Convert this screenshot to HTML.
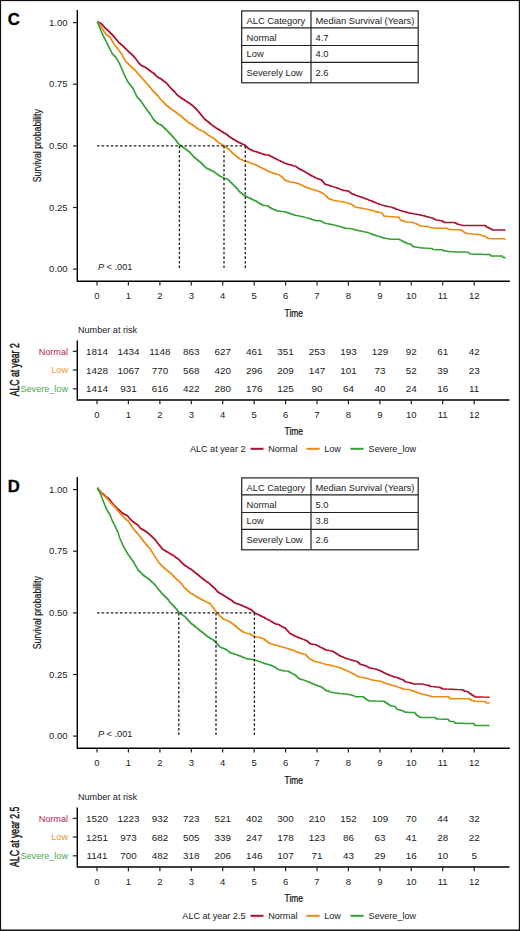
<!DOCTYPE html>
<html><head><meta charset="utf-8"><style>
html,body{margin:0;padding:0;background:#fff;}
svg{display:block;font-family:"Liberation Sans", sans-serif;}
</style></head><body>
<svg width="520" height="931" viewBox="0 0 520 931">
<rect x="0" y="0" width="520" height="931" fill="#fff"/>
<text transform="translate(7.7,24.9) scale(0.98,1)" font-size="17" font-weight="bold" fill="#000" stroke="#000" stroke-width="0.35">C</text>
<polyline points="97.1,21.7 98.7,21.7 98.7,22.7 100.3,22.7 100.3,23.8 101.9,23.8 101.9,24.8 102.8,24.8 102.8,25.8 103.7,25.8 103.7,26.8 104.5,26.8 104.5,27.8 105.4,27.8 105.4,28.8 106.5,28.8 106.5,29.8 107.7,29.8 107.7,30.7 108.8,30.7 108.8,31.7 109.7,31.7 109.7,32.6 110.5,32.6 110.5,33.5 111.4,33.5 111.4,34.3 112.3,34.3 112.3,35.2 113.2,35.2 113.2,36.2 114.0,36.2 114.0,37.2 114.9,37.2 114.9,38.2 115.8,38.2 115.8,39.2 116.5,39.2 116.5,40.0 117.2,40.0 117.2,40.8 117.8,40.8 117.8,41.7 118.5,41.7 118.5,42.5 119.2,42.5 119.2,43.3 120.3,43.3 120.3,44.3 121.5,44.3 121.5,45.3 122.7,45.3 122.7,46.3 123.8,46.3 123.8,47.3 124.7,47.3 124.7,48.2 125.7,48.2 125.7,49.1 126.6,49.1 126.6,50.1 127.6,50.1 127.6,51.0 128.5,51.0 128.5,51.9 129.4,51.9 129.4,52.7 130.3,52.7 130.3,53.5 131.3,53.5 131.3,54.4 132.2,54.4 132.2,55.2 133.1,55.2 133.1,56.0 133.8,56.0 133.8,56.9 134.6,56.9 134.6,57.7 135.3,57.7 135.3,58.5 136.0,58.5 136.0,59.4 136.6,59.4 136.6,60.2 137.1,60.2 137.1,61.0 137.7,61.0 137.7,61.9 138.2,61.9 138.2,62.7 138.8,62.7 138.8,63.5 139.8,63.5 139.8,64.5 140.8,64.5 140.8,65.4 142.3,65.4 142.3,66.2 143.9,66.2 143.9,66.9 145.4,66.9 145.4,67.7 146.6,67.7 146.6,68.6 147.7,68.6 147.7,69.5 148.8,69.5 148.8,70.3 150.0,70.3 150.0,71.2 151.2,71.2 151.2,72.0 152.3,72.0 152.3,72.7 153.5,72.7 153.5,73.5 154.3,73.5 154.3,74.3 155.2,74.3 155.2,75.2 156.1,75.2 156.1,76.1 156.9,76.1 156.9,76.9 158.4,76.9 158.4,77.9 160.0,77.9 160.0,78.8 161.5,78.8 161.5,79.8 162.7,79.8 162.7,80.7 163.8,80.7 163.8,81.5 165.0,81.5 165.0,82.4 166.2,82.4 166.2,83.3 167.0,83.3 167.0,84.2 167.7,84.2 167.7,85.0 168.5,85.0 168.5,85.9 169.3,85.9 169.3,86.8 170.0,86.8 170.0,87.6 170.8,87.6 170.8,88.5 171.7,88.5 171.7,89.4 172.6,89.4 172.6,90.3 173.6,90.3 173.6,91.3 174.5,91.3 174.5,92.2 175.4,92.2 175.4,93.1 176.1,93.1 176.1,93.9 176.8,93.9 176.8,94.8 177.5,94.8 177.5,95.6 178.7,95.6 178.7,96.6 180.0,96.6 180.0,97.5 181.2,97.5 181.2,98.5 182.6,98.5 182.6,99.3 184.1,99.3 184.1,100.2 185.5,100.2 185.5,101.1 186.9,101.1 186.9,101.9 188.1,101.9 188.1,102.7 189.2,102.7 189.2,103.5 190.4,103.5 190.4,104.4 191.5,104.4 191.5,105.2 192.7,105.2 192.7,106.0 193.6,106.0 193.6,106.9 194.5,106.9 194.5,107.8 195.5,107.8 195.5,108.8 196.4,108.8 196.4,109.7 197.3,109.7 197.3,110.6 198.1,110.6 198.1,111.5 198.8,111.5 198.8,112.5 199.6,112.5 199.6,113.4 200.4,113.4 200.4,114.3 201.1,114.3 201.1,115.3 201.9,115.3 201.9,116.2 202.6,116.2 202.6,117.0 203.2,117.0 203.2,117.8 203.9,117.8 203.9,118.6 204.6,118.6 204.6,119.4 205.8,119.4 205.8,120.4 206.9,120.4 206.9,121.3 208.1,121.3 208.1,122.3 209.2,122.3 209.2,123.2 210.4,123.2 210.4,124.2 211.6,124.2 211.6,125.1 212.7,125.1 212.7,125.9 213.9,125.9 213.9,126.8 215.0,126.8 215.0,127.6 216.2,127.6 216.2,128.5 217.6,128.5 217.6,129.3 219.1,129.3 219.1,130.2 220.5,130.2 220.5,131.1 221.9,131.1 221.9,131.9 223.4,131.9 223.4,132.9 225.0,132.9 225.0,133.8 226.5,133.8 226.5,134.8 227.7,134.8 227.7,135.7 228.8,135.7 228.8,136.6 230.0,136.6 230.0,137.4 231.2,137.4 231.2,138.3 232.6,138.3 232.6,139.2 234.1,139.2 234.1,140.0 235.5,140.0 235.5,140.8 236.9,140.8 236.9,141.7 238.4,141.7 238.4,142.5 240.0,142.5 240.0,143.2 241.5,143.2 241.5,144.0 243.1,144.0 243.1,144.6 244.6,144.6 244.6,145.2 245.5,145.2 245.5,146.1 246.3,146.1 246.3,146.9 247.2,146.9 247.2,147.8 248.1,147.8 248.1,148.7 249.6,148.7 249.6,149.5 251.2,149.5 251.2,150.2 252.7,150.2 252.7,151.0 254.1,151.0 254.1,151.4 255.6,151.4 255.6,151.8 257.1,151.8 257.1,152.3 258.5,152.3 258.5,152.7 259.9,152.7 259.9,153.2 261.4,153.2 261.4,153.8 262.8,153.8 262.8,154.3 264.2,154.3 264.2,154.8 265.9,154.8 265.9,154.9 267.7,154.9 267.7,155.0 269.1,155.0 269.1,155.7 270.6,155.7 270.6,156.4 272.1,156.4 272.1,157.2 273.5,157.2 273.5,157.9 274.9,157.9 274.9,158.6 276.4,158.6 276.4,159.4 277.8,159.4 277.8,160.1 279.2,160.1 279.2,160.8 280.7,160.8 280.7,161.6 282.3,161.6 282.3,162.3 283.8,162.3 283.8,163.1 285.2,163.1 285.2,163.5 286.7,163.5 286.7,163.9 288.2,163.9 288.2,164.4 289.6,164.4 289.6,164.8 291.1,164.8 291.1,165.2 292.5,165.2 292.5,165.7 293.9,165.7 293.9,166.1 295.4,166.1 295.4,166.5 296.4,166.5 296.4,167.3 297.5,167.3 297.5,168.0 298.5,168.0 298.5,168.8 299.9,168.8 299.9,169.5 301.4,169.5 301.4,170.2 302.8,170.2 302.8,171.0 304.2,171.0 304.2,171.7 305.6,171.7 305.6,172.6 307.1,172.6 307.1,173.4 308.6,173.4 308.6,174.3 310.0,174.3 310.0,175.2 311.4,175.2 311.4,175.9 312.9,175.9 312.9,176.6 314.4,176.6 314.4,177.4 315.8,177.4 315.8,178.1 317.2,178.1 317.2,178.7 318.6,178.7 318.6,179.2 320.1,179.2 320.1,179.8 321.5,179.8 321.5,180.4 322.4,180.4 322.4,181.4 323.2,181.4 323.2,182.4 324.1,182.4 324.1,183.4 325.0,183.4 325.0,184.4 326.4,184.4 326.4,184.8 327.9,184.8 327.9,185.3 329.4,185.3 329.4,185.8 330.8,185.8 330.8,186.2 332.2,186.2 332.2,186.6 333.6,186.6 333.6,187.1 335.1,187.1 335.1,187.5 336.5,187.5 336.5,187.9 337.9,187.9 337.9,188.5 339.4,188.5 339.4,189.1 340.9,189.1 340.9,189.6 342.3,189.6 342.3,190.2 343.8,190.2 343.8,190.5 345.2,190.5 345.2,190.8 346.7,190.8 346.7,191.0 348.1,191.0 348.1,191.3 349.2,191.3 349.2,192.1 350.4,192.1 350.4,192.9 351.5,192.9 351.5,193.7 352.9,193.7 352.9,194.3 354.4,194.3 354.4,195.0 355.8,195.0 355.8,195.6 357.2,195.6 357.2,196.0 358.6,196.0 358.6,196.4 360.1,196.4 360.1,196.9 361.5,196.9 361.5,197.3 362.9,197.3 362.9,197.9 364.4,197.9 364.4,198.4 365.9,198.4 365.9,199.0 367.3,199.0 367.3,199.6 368.8,199.6 368.8,200.2 370.2,200.2 370.2,200.8 371.7,200.8 371.7,201.3 373.1,201.3 373.1,201.9 374.5,201.9 374.5,202.5 376.0,202.5 376.0,203.1 377.4,203.1 377.4,203.6 378.8,203.6 378.8,204.2 380.2,204.2 380.2,204.6 381.7,204.6 381.7,205.1 383.2,205.1 383.2,205.6 384.6,205.6 384.6,206.0 386.1,206.0 386.1,206.3 387.5,206.3 387.5,206.6 388.9,206.6 388.9,206.8 390.4,206.8 390.4,207.1 392.2,207.1 392.2,207.8 394.0,207.8 394.0,208.5 395.8,208.5 395.8,209.2 397.2,209.2 397.2,209.6 398.6,209.6 398.6,210.1 400.1,210.1 400.1,210.6 401.5,210.6 401.5,211.0 402.9,211.0 402.9,211.4 404.4,211.4 404.4,211.8 405.9,211.8 405.9,212.3 407.3,212.3 407.3,212.7 408.8,212.7 408.8,213.0 410.2,213.0 410.2,213.2 411.7,213.2 411.7,213.5 413.1,213.5 413.1,213.8 414.5,213.8 414.5,214.1 416.0,214.1 416.0,214.3 417.4,214.3 417.4,214.6 418.8,214.6 418.8,214.8 420.2,214.8 420.2,215.2 421.7,215.2 421.7,215.5 423.2,215.5 423.2,215.8 424.6,215.8 424.6,216.2 426.4,216.2 426.4,216.8 428.1,216.8 428.1,217.3 429.8,217.3 429.8,217.6 431.5,217.6 431.5,217.9 433.2,217.9 433.2,218.9 435.0,218.9 435.0,219.8 436.4,219.8 436.4,220.1 437.9,220.1 437.9,220.3 439.4,220.3 439.4,220.6 440.8,220.6 440.8,220.8 442.5,220.8 442.5,221.7 444.2,221.7 444.2,222.5 453.1,222.5 455.1,222.5 455.1,223.3 457.1,223.3 457.1,224.2 458.9,224.2 458.9,224.6 460.7,224.6 460.7,225.1 462.5,225.1 462.5,225.5 484.0,225.5 485.4,225.5 485.4,226.3 486.7,226.3 486.7,227.1 488.1,227.1 488.1,227.9 490.1,227.9 490.1,228.9 492.1,228.9 492.1,229.9 505.6,229.9" fill="none" stroke="#aa1030" stroke-width="1.45" stroke-linejoin="round"/>
<polyline points="97.1,21.7 97.8,21.7 97.8,22.7 98.6,22.7 98.6,23.6 99.3,23.6 99.3,24.6 100.1,24.6 100.1,25.5 100.8,25.5 100.8,26.5 101.4,26.5 101.4,27.5 101.9,27.5 101.9,28.4 102.5,28.4 102.5,29.4 103.1,29.4 103.1,30.4 103.6,30.4 103.6,31.3 104.2,31.3 104.2,32.3 105.0,32.3 105.0,33.3 105.7,33.3 105.7,34.2 106.5,34.2 106.5,35.2 107.7,35.2 107.7,36.0 108.8,36.0 108.8,36.7 110.0,36.7 110.0,37.5 110.6,37.5 110.6,38.5 111.2,38.5 111.2,39.5 111.7,39.5 111.7,40.5 112.3,40.5 112.3,41.5 112.9,41.5 112.9,42.4 113.4,42.4 113.4,43.2 114.0,43.2 114.0,44.1 114.6,44.1 114.6,45.0 115.3,45.0 115.3,45.9 116.0,45.9 116.0,46.8 116.7,46.8 116.7,47.8 117.4,47.8 117.4,48.7 118.1,48.7 118.1,49.6 118.8,49.6 118.8,50.5 119.5,50.5 119.5,51.4 120.1,51.4 120.1,52.4 120.8,52.4 120.8,53.3 121.5,53.3 121.5,54.2 122.0,54.2 122.0,55.1 122.5,55.1 122.5,55.9 122.9,55.9 122.9,56.8 123.4,56.8 123.4,57.6 123.9,57.6 123.9,58.5 124.4,58.5 124.4,59.3 124.8,59.3 124.8,60.2 125.3,60.2 125.3,61.0 125.8,61.0 125.8,61.9 126.7,61.9 126.7,62.8 127.6,62.8 127.6,63.7 128.6,63.7 128.6,64.7 129.5,64.7 129.5,65.6 130.4,65.6 130.4,66.5 131.3,66.5 131.3,67.3 132.2,67.3 132.2,68.1 133.2,68.1 133.2,69.0 134.1,69.0 134.1,69.8 135.0,69.8 135.0,70.6 135.8,70.6 135.8,71.5 136.5,71.5 136.5,72.3 137.3,72.3 137.3,73.2 138.1,73.2 138.1,74.1 138.8,74.1 138.8,74.9 139.6,74.9 139.6,75.8 140.4,75.8 140.4,76.7 141.1,76.7 141.1,77.5 141.9,77.5 141.9,78.4 142.7,78.4 142.7,79.3 143.4,79.3 143.4,80.1 144.2,80.1 144.2,81.0 145.0,81.0 145.0,81.9 145.7,81.9 145.7,82.7 146.5,82.7 146.5,83.6 147.3,83.6 147.3,84.5 148.0,84.5 148.0,85.3 148.8,85.3 148.8,86.2 149.6,86.2 149.6,87.2 150.4,87.2 150.4,88.1 151.2,88.1 151.2,89.1 151.9,89.1 151.9,90.0 152.7,90.0 152.7,91.0 153.5,91.0 153.5,91.9 154.4,91.9 154.4,92.8 155.3,92.8 155.3,93.7 156.3,93.7 156.3,94.7 157.2,94.7 157.2,95.6 158.1,95.6 158.1,96.5 158.9,96.5 158.9,97.5 159.6,97.5 159.6,98.6 160.4,98.6 160.4,99.6 161.4,99.6 161.4,100.6 162.3,100.6 162.3,101.5 163.3,101.5 163.3,102.5 164.3,102.5 164.3,103.5 165.2,103.5 165.2,104.4 166.2,104.4 166.2,105.4 167.3,105.4 167.3,106.3 168.5,106.3 168.5,107.2 169.6,107.2 169.6,108.2 170.8,108.2 170.8,109.1 171.9,109.1 171.9,110.0 173.1,110.0 173.1,110.8 174.2,110.8 174.2,111.5 175.4,111.5 175.4,112.3 176.6,112.3 176.6,113.2 177.7,113.2 177.7,114.0 178.8,114.0 178.8,114.9 180.0,114.9 180.0,115.8 181.2,115.8 181.2,116.8 182.3,116.8 182.3,117.8 183.4,117.8 183.4,118.8 184.6,118.8 184.6,119.8 185.8,119.8 185.8,120.7 186.9,120.7 186.9,121.5 188.0,121.5 188.0,122.4 189.2,122.4 189.2,123.3 190.7,123.3 190.7,124.3 192.3,124.3 192.3,125.2 193.8,125.2 193.8,126.2 195.0,126.2 195.0,127.0 196.2,127.0 196.2,127.9 197.3,127.9 197.3,128.8 198.5,128.8 198.5,129.6 200.2,129.6 200.2,130.4 201.8,130.4 201.8,131.1 203.5,131.1 203.5,131.9 204.7,131.9 204.7,132.8 205.8,132.8 205.8,133.7 206.9,133.7 206.9,134.5 208.1,134.5 208.1,135.4 209.5,135.4 209.5,136.2 210.9,136.2 210.9,137.1 212.4,137.1 212.4,138.0 213.8,138.0 213.8,138.8 214.7,138.8 214.7,139.6 215.7,139.6 215.7,140.4 216.6,140.4 216.6,141.3 217.6,141.3 217.6,142.1 218.5,142.1 218.5,142.9 219.9,142.9 219.9,143.8 221.3,143.8 221.3,144.6 222.8,144.6 222.8,145.5 224.2,145.5 224.2,146.3 225.3,146.3 225.3,147.2 226.5,147.2 226.5,148.0 227.7,148.0 227.7,148.8 228.8,148.8 228.8,149.7 229.7,149.7 229.7,150.6 230.7,150.6 230.7,151.5 231.6,151.5 231.6,152.5 232.6,152.5 232.6,153.4 233.5,153.4 233.5,154.3 234.7,154.3 234.7,155.3 235.8,155.3 235.8,156.3 236.9,156.3 236.9,157.3 238.1,157.3 238.1,158.3 239.6,158.3 239.6,159.1 241.2,159.1 241.2,159.8 242.7,159.8 242.7,160.6 244.2,160.6 244.2,160.9 245.8,160.9 245.8,161.3 247.3,161.3 247.3,161.9 248.9,161.9 248.9,162.5 250.4,162.5 250.4,163.1 251.8,163.1 251.8,163.7 253.3,163.7 253.3,164.2 254.8,164.2 254.8,164.8 256.2,164.8 256.2,165.4 257.6,165.4 257.6,166.1 259.0,166.1 259.0,166.9 260.5,166.9 260.5,167.6 261.9,167.6 261.9,168.3 263.3,168.3 263.3,169.0 264.8,169.0 264.8,169.8 266.2,169.8 266.2,170.5 267.7,170.5 267.7,171.2 269.1,171.2 269.1,171.8 270.6,171.8 270.6,172.3 272.1,172.3 272.1,172.9 273.5,172.9 273.5,173.5 275.0,173.5 275.0,173.9 276.6,173.9 276.6,174.2 278.1,174.2 278.1,174.6 279.2,174.6 279.2,175.4 280.4,175.4 280.4,176.1 281.5,176.1 281.5,176.9 282.4,176.9 282.4,177.8 283.2,177.8 283.2,178.7 284.1,178.7 284.1,179.5 285.0,179.5 285.0,180.4 286.5,180.4 286.5,181.0 288.1,181.0 288.1,181.5 289.6,181.5 289.6,182.1 291.4,182.1 291.4,182.3 293.2,182.3 293.2,182.5 295.0,182.5 295.0,182.7 296.4,182.7 296.4,183.3 297.9,183.3 297.9,183.8 299.4,183.8 299.4,184.4 300.8,184.4 300.8,185.0 302.3,185.0 302.3,185.8 303.9,185.8 303.9,186.5 305.4,186.5 305.4,187.3 307.1,187.3 307.1,187.9 308.9,187.9 308.9,188.4 310.6,188.4 310.6,189.0 312.3,189.0 312.3,189.6 313.8,189.6 313.8,190.0 315.2,190.0 315.2,190.4 316.7,190.4 316.7,190.9 318.1,190.9 318.1,191.3 319.5,191.3 319.5,192.0 321.0,192.0 321.0,192.8 322.4,192.8 322.4,193.5 323.8,193.5 323.8,194.2 324.7,194.2 324.7,195.1 325.7,195.1 325.7,196.0 326.6,196.0 326.6,197.0 327.6,197.0 327.6,197.9 328.5,197.9 328.5,198.8 329.9,198.8 329.9,199.2 331.4,199.2 331.4,199.7 332.8,199.7 332.8,200.2 334.2,200.2 334.2,200.6 335.9,200.6 335.9,200.9 337.7,200.9 337.7,201.1 339.4,201.1 339.4,201.4 341.2,201.4 341.2,201.7 342.6,201.7 342.6,202.0 344.0,202.0 344.0,202.3 345.5,202.3 345.5,202.6 346.9,202.6 346.9,202.9 348.4,202.9 348.4,203.5 350.0,203.5 350.0,204.0 351.5,204.0 351.5,204.6 352.5,204.6 352.5,205.4 353.6,205.4 353.6,206.3 354.6,206.3 354.6,207.1 356.3,207.1 356.3,207.4 358.1,207.4 358.1,207.7 359.8,207.7 359.8,208.0 361.5,208.0 361.5,208.3 362.9,208.3 362.9,208.6 364.4,208.6 364.4,208.9 365.9,208.9 365.9,209.1 367.3,209.1 367.3,209.4 368.8,209.4 368.8,209.8 370.2,209.8 370.2,210.2 371.7,210.2 371.7,210.5 373.1,210.5 373.1,210.9 374.6,210.9 374.6,211.4 376.2,211.4 376.2,211.8 377.7,211.8 377.7,212.3 379.7,212.3 379.7,212.6 381.7,212.6 381.7,212.9 382.3,212.9 382.3,213.9 382.9,213.9 382.9,215.0 383.5,215.0 383.5,216.0 384.9,216.0 384.9,216.2 386.4,216.2 386.4,216.3 387.8,216.3 387.8,216.5 389.2,216.5 389.2,216.7 390.7,216.7 390.7,216.8 392.3,216.8 392.3,216.8 393.8,216.8 393.8,216.9 395.4,216.9 395.4,217.0 397.1,217.0 397.1,217.2 398.7,217.2 398.7,217.3 399.3,217.3 399.3,218.3 399.8,218.3 399.8,219.2 400.4,219.2 400.4,220.2 401.9,220.2 401.9,220.8 403.5,220.8 403.5,221.3 405.0,221.3 405.0,221.9 406.7,221.9 406.7,222.1 408.4,222.1 408.4,222.2 410.2,222.2 410.2,222.3 411.9,222.3 411.9,222.5 413.4,222.5 413.4,223.1 415.0,223.1 415.0,223.6 416.5,223.6 416.5,224.2 418.2,224.2 418.2,225.1 420.0,225.1 420.0,226.0 421.7,226.0 421.7,226.1 423.4,226.1 423.4,226.2 425.2,226.2 425.2,226.4 426.9,226.4 426.9,226.5 428.6,226.5 428.6,227.1 430.4,227.1 430.4,227.7 431.8,227.7 431.8,227.8 433.3,227.8 433.3,228.0 434.8,228.0 434.8,228.2 436.2,228.2 436.2,228.3 445.4,228.3 447.2,228.3 447.2,228.9 449.0,228.9 449.0,229.5 450.6,229.5 450.6,229.6 452.3,229.6 452.3,229.6 453.9,229.6 453.9,229.7 455.6,229.7 455.6,229.7 457.2,229.7 457.2,229.8 458.9,229.8 458.9,229.8 460.5,229.8 460.5,229.9 461.7,229.9 461.7,230.8 462.9,230.8 462.9,231.6 464.0,231.6 464.0,232.5 465.2,232.5 465.2,233.3 466.9,233.3 466.9,233.5 468.6,233.5 468.6,233.6 470.2,233.6 470.2,233.8 471.9,233.8 471.9,233.9 473.6,233.9 473.6,234.1 475.2,234.1 475.2,234.3 476.9,234.3 476.9,234.4 478.6,234.4 478.6,234.6 480.4,234.6 480.4,235.1 482.2,235.1 482.2,235.7 484.0,235.7 484.0,236.2 485.4,236.2 485.4,237.0 486.7,237.0 486.7,237.8 488.1,237.8 488.1,238.6 489.7,238.6 489.7,238.6 491.3,238.6 491.3,238.7 492.9,238.7 492.9,238.7 494.5,238.7 494.5,238.7 496.1,238.7 496.1,238.7 497.6,238.7 497.6,238.8 499.2,238.8 499.2,238.8 500.8,238.8 500.8,238.8 502.4,238.8 502.4,238.8 504.0,238.8 504.0,238.9 505.6,238.9 505.6,238.9" fill="none" stroke="#ea8c12" stroke-width="1.45" stroke-linejoin="round"/>
<polyline points="97.1,21.7 97.5,21.7 97.5,22.6 97.8,22.6 97.8,23.4 98.2,23.4 98.2,24.3 98.5,24.3 98.5,25.1 98.9,25.1 98.9,26.0 99.2,26.0 99.2,26.8 99.6,26.8 99.6,27.7 100.0,27.7 100.0,28.7 100.4,28.7 100.4,29.6 100.8,29.6 100.8,30.6 101.1,30.6 101.1,31.6 101.5,31.6 101.5,32.5 101.9,32.5 101.9,33.5 102.4,33.5 102.4,34.5 102.9,34.5 102.9,35.4 103.3,35.4 103.3,36.4 103.8,36.4 103.8,37.3 104.3,37.3 104.3,38.2 104.8,38.2 104.8,39.2 105.3,39.2 105.3,40.2 105.8,40.2 105.8,41.1 106.2,41.1 106.2,42.1 106.7,42.1 106.7,43.1 107.2,43.1 107.2,44.0 107.7,44.0 107.7,45.0 108.2,45.0 108.2,46.0 108.7,46.0 108.7,46.9 109.2,46.9 109.2,47.9 109.6,47.9 109.6,48.9 110.1,48.9 110.1,49.8 110.6,49.8 110.6,50.8 111.0,50.8 111.0,51.6 111.4,51.6 111.4,52.5 111.9,52.5 111.9,53.4 112.3,53.4 112.3,54.2 113.2,54.2 113.2,55.1 114.0,55.1 114.0,56.0 114.9,56.0 114.9,56.8 115.8,56.8 115.8,57.7 116.4,57.7 116.4,58.7 116.9,58.7 116.9,59.6 117.5,59.6 117.5,60.6 118.1,60.6 118.1,61.6 118.6,61.6 118.6,62.5 119.2,62.5 119.2,63.5 119.7,63.5 119.7,64.5 120.1,64.5 120.1,65.5 120.6,65.5 120.6,66.5 121.0,66.5 121.0,67.4 121.4,67.4 121.4,68.4 121.8,68.4 121.8,69.3 122.2,69.3 122.2,70.2 122.6,70.2 122.6,71.2 123.0,71.2 123.0,72.1 123.4,72.1 123.4,73.0 123.8,73.0 123.8,73.9 124.2,73.9 124.2,74.9 124.6,74.9 124.6,75.8 125.0,75.8 125.0,76.7 125.5,76.7 125.5,77.5 125.9,77.5 125.9,78.4 126.3,78.4 126.3,79.2 126.8,79.2 126.8,80.1 127.2,80.1 127.2,81.0 127.7,81.0 127.7,81.8 128.1,81.8 128.1,82.7 128.9,82.7 128.9,83.7 129.6,83.7 129.6,84.6 130.4,84.6 130.4,85.6 131.2,85.6 131.2,86.6 131.9,86.6 131.9,87.5 132.7,87.5 132.7,88.5 133.2,88.5 133.2,89.4 133.6,89.4 133.6,90.3 134.1,90.3 134.1,91.3 134.5,91.3 134.5,92.2 135.0,92.2 135.0,93.1 135.5,93.1 135.5,94.0 135.9,94.0 135.9,94.9 136.4,94.9 136.4,95.9 136.8,95.9 136.8,96.8 137.3,96.8 137.3,97.7 138.2,97.7 138.2,98.6 139.1,98.6 139.1,99.5 139.9,99.5 139.9,100.3 140.8,100.3 140.8,101.2 141.4,101.2 141.4,102.1 142.0,102.1 142.0,102.9 142.5,102.9 142.5,103.8 143.1,103.8 143.1,104.7 143.7,104.7 143.7,105.5 144.2,105.5 144.2,106.4 144.8,106.4 144.8,107.2 145.4,107.2 145.4,108.1 146.1,108.1 146.1,109.0 146.7,109.0 146.7,109.8 147.4,109.8 147.4,110.7 148.0,110.7 148.0,111.6 148.7,111.6 148.7,112.5 149.3,112.5 149.3,113.3 150.0,113.3 150.0,114.2 150.6,114.2 150.6,115.1 151.2,115.1 151.2,116.1 151.8,116.1 151.8,117.0 152.3,117.0 152.3,117.9 152.9,117.9 152.9,118.9 153.5,118.9 153.5,119.8 154.3,119.8 154.3,120.7 155.2,120.7 155.2,121.5 156.1,121.5 156.1,122.4 156.9,122.4 156.9,123.3 158.4,123.3 158.4,124.1 160.0,124.1 160.0,124.8 161.5,124.8 161.5,125.6 162.4,125.6 162.4,126.5 163.4,126.5 163.4,127.4 164.3,127.4 164.3,128.4 165.3,128.4 165.3,129.3 166.2,129.3 166.2,130.2 167.1,130.2 167.1,131.1 168.0,131.1 168.0,132.0 169.0,132.0 169.0,133.0 169.9,133.0 169.9,133.9 170.8,133.9 170.8,134.8 171.6,134.8 171.6,135.7 172.3,135.7 172.3,136.5 173.1,136.5 173.1,137.4 173.9,137.4 173.9,138.3 174.6,138.3 174.6,139.1 175.4,139.1 175.4,140.0 176.1,140.0 176.1,140.9 176.8,140.9 176.8,141.8 177.4,141.8 177.4,142.8 178.1,142.8 178.1,143.7 178.8,143.7 178.8,144.6 180.0,144.6 180.0,145.5 181.2,145.5 181.2,146.3 182.3,146.3 182.3,147.2 183.5,147.2 183.5,148.1 185.0,148.1 185.0,149.0 186.2,149.0 186.2,149.9 187.3,149.9 187.3,150.8 188.4,150.8 188.4,151.6 189.6,151.6 189.6,152.5 190.4,152.5 190.4,153.4 191.1,153.4 191.1,154.2 191.9,154.2 191.9,155.1 192.7,155.1 192.7,156.0 193.4,156.0 193.4,156.8 194.2,156.8 194.2,157.7 195.4,157.7 195.4,158.6 196.5,158.6 196.5,159.5 197.7,159.5 197.7,160.5 198.8,160.5 198.8,161.4 200.0,161.4 200.0,162.3 201.0,162.3 201.0,163.3 201.9,163.3 201.9,164.2 202.9,164.2 202.9,165.2 203.9,165.2 203.9,166.2 204.8,166.2 204.8,167.1 205.8,167.1 205.8,168.1 207.5,168.1 207.5,168.9 209.2,168.9 209.2,169.8 210.7,169.8 210.7,170.6 212.3,170.6 212.3,171.3 213.8,171.3 213.8,172.1 215.0,172.1 215.0,173.0 216.2,173.0 216.2,173.8 217.3,173.8 217.3,174.7 218.5,174.7 218.5,175.6 220.0,175.6 220.0,176.4 221.6,176.4 221.6,177.1 223.1,177.1 223.1,177.9 224.6,177.9 224.6,178.5 226.2,178.5 226.2,179.0 227.7,179.0 227.7,179.6 228.6,179.6 228.6,180.5 229.5,180.5 229.5,181.4 230.5,181.4 230.5,182.4 231.4,182.4 231.4,183.3 232.3,183.3 232.3,184.2 233.2,184.2 233.2,185.1 234.1,185.1 234.1,186.0 235.1,186.0 235.1,187.0 236.0,187.0 236.0,187.9 236.9,187.9 236.9,188.8 237.7,188.8 237.7,189.7 238.4,189.7 238.4,190.7 239.2,190.7 239.2,191.6 240.0,191.6 240.0,192.5 241.3,192.5 241.3,193.5 242.6,193.5 242.6,194.5 243.9,194.5 243.9,195.5 245.2,195.5 245.2,196.5 247.2,196.5 247.2,197.4 249.2,197.4 249.2,198.3 250.9,198.3 250.9,199.2 252.7,199.2 252.7,200.0 254.4,200.0 254.4,200.8 256.2,200.8 256.2,201.7 257.6,201.7 257.6,202.6 259.0,202.6 259.0,203.4 260.5,203.4 260.5,204.3 261.9,204.3 261.9,205.2 263.4,205.2 263.4,205.4 265.0,205.4 265.0,205.6 266.5,205.6 266.5,205.8 268.1,205.8 268.1,206.8 269.6,206.8 269.6,207.7 271.2,207.7 271.2,208.7 272.6,208.7 272.6,209.3 274.0,209.3 274.0,209.8 275.5,209.8 275.5,210.4 276.9,210.4 276.9,211.0 278.6,211.0 278.6,211.2 280.4,211.2 280.4,211.4 282.1,211.4 282.1,211.6 283.8,211.6 283.8,211.8 285.4,211.8 285.4,212.3 286.9,212.3 286.9,212.8 288.5,212.8 288.5,213.3 289.9,213.3 289.9,213.8 291.4,213.8 291.4,214.2 292.8,214.2 292.8,214.7 294.2,214.7 294.2,215.2 295.7,215.2 295.7,215.5 297.3,215.5 297.3,215.8 298.8,215.8 298.8,216.1 300.4,216.1 300.4,216.4 301.9,216.4 301.9,216.7 303.6,216.7 303.6,217.1 305.4,217.1 305.4,217.6 307.1,217.6 307.1,218.1 308.8,218.1 308.8,218.5 310.2,218.5 310.2,219.0 311.7,219.0 311.7,219.5 313.2,219.5 313.2,220.0 314.6,220.0 314.6,220.5 316.3,220.5 316.3,220.7 318.1,220.7 318.1,220.8 319.8,220.8 319.8,221.0 321.8,221.0 321.8,222.1 323.8,222.1 323.8,223.1 325.2,223.1 325.2,223.4 326.7,223.4 326.7,223.6 328.2,223.6 328.2,223.9 329.6,223.9 329.6,224.2 331.1,224.2 331.1,224.5 332.5,224.5 332.5,224.8 333.9,224.8 333.9,225.1 335.4,225.1 335.4,225.4 336.9,225.4 336.9,225.9 338.5,225.9 338.5,226.3 340.0,226.3 340.0,226.8 341.5,226.8 341.5,227.3 343.1,227.3 343.1,227.8 344.6,227.8 344.6,228.3 346.1,228.3 346.1,228.4 347.5,228.4 347.5,228.4 348.9,228.4 348.9,228.5 350.4,228.5 350.4,228.6 352.2,228.6 352.2,229.1 354.0,229.1 354.0,229.7 355.8,229.7 355.8,230.2 357.2,230.2 357.2,230.5 358.6,230.5 358.6,230.8 360.1,230.8 360.1,231.0 361.5,231.0 361.5,231.3 362.9,231.3 362.9,231.6 364.4,231.6 364.4,231.9 365.9,231.9 365.9,232.2 367.3,232.2 367.3,232.5 368.8,232.5 368.8,233.1 370.2,233.1 370.2,233.7 371.7,233.7 371.7,234.2 373.1,234.2 373.1,234.8 374.5,234.8 374.5,235.2 376.0,235.2 376.0,235.7 377.4,235.7 377.4,236.1 378.8,236.1 378.8,236.5 380.2,236.5 380.2,236.9 381.7,236.9 381.7,237.4 383.2,237.4 383.2,237.9 384.6,237.9 384.6,238.3 386.1,238.3 386.1,238.6 387.5,238.6 387.5,238.8 388.9,238.8 388.9,239.1 390.4,239.1 390.4,239.3 391.9,239.3 391.9,239.3 393.5,239.3 393.5,239.3 395.0,239.3 395.0,239.2 396.6,239.2 396.6,239.2 398.1,239.2 398.1,239.2 399.8,239.2 399.8,240.1 401.5,240.1 401.5,241.0 403.1,241.0 403.1,241.8 404.6,241.8 404.6,242.5 406.2,242.5 406.2,243.3 407.7,243.3 407.7,243.7 409.3,243.7 409.3,244.0 410.8,244.0 410.8,244.4 411.6,244.4 411.6,245.2 412.3,245.2 412.3,245.9 413.1,245.9 413.1,246.7 414.7,246.7 414.7,246.9 416.3,246.9 416.3,247.2 418.0,247.2 418.0,247.4 419.6,247.4 419.6,247.7 421.2,247.7 421.2,247.9 422.7,247.9 422.7,248.0 424.3,248.0 424.3,248.1 425.8,248.1 425.8,248.2 427.3,248.2 427.3,248.3 428.9,248.3 428.9,248.4 430.4,248.4 430.4,248.5 432.7,248.5 432.7,249.6 434.2,249.6 434.2,249.6 435.8,249.6 435.8,249.7 437.3,249.7 437.3,249.7 438.8,249.7 438.8,249.7 440.4,249.7 440.4,249.8 441.9,249.8 441.9,249.8 443.1,249.8 443.1,250.8 444.8,250.8 444.8,251.0 446.5,251.0 446.5,251.2 448.3,251.2 448.3,251.4 450.0,251.4 450.0,251.6 451.7,251.6 451.7,251.8 453.2,251.8 453.2,251.8 454.8,251.8 454.8,251.9 456.3,251.9 456.3,251.9 457.9,251.9 457.9,251.9 459.4,251.9 459.4,251.9 461.0,251.9 461.0,252.0 462.6,252.0 462.6,252.0 464.1,252.0 464.1,252.0 465.6,252.0 465.6,252.1 467.2,252.1 467.2,252.1 468.5,252.1 468.5,253.1 469.9,253.1 469.9,254.1 471.5,254.1 471.5,254.1 473.1,254.1 473.1,254.2 474.8,254.2 474.8,254.2 476.4,254.2 476.4,254.2 478.0,254.2 478.0,254.3 479.6,254.3 479.6,254.3 481.3,254.3 481.3,254.3 482.9,254.3 482.9,254.4 484.5,254.4 484.5,254.4 486.1,254.4 486.1,254.4 487.8,254.4 487.8,254.5 489.4,254.5 489.4,254.5 490.1,254.5 490.1,255.2 490.8,255.2 490.8,255.9 501.5,255.9 502.2,255.9 502.2,256.7 502.9,256.7 502.9,257.5 505.6,257.5" fill="none" stroke="#36a036" stroke-width="1.45" stroke-linejoin="round"/>
<line x1="97" y1="145.9" x2="245.3" y2="145.9" stroke="#222" stroke-width="1.3" stroke-dasharray="2.6,2"/>
<line x1="179.4" y1="145.9" x2="179.4" y2="269.1" stroke="#222" stroke-width="1.3" stroke-dasharray="2.6,2"/>
<line x1="224.0" y1="145.9" x2="224.0" y2="269.1" stroke="#222" stroke-width="1.3" stroke-dasharray="2.6,2"/>
<line x1="245.3" y1="145.9" x2="245.3" y2="269.1" stroke="#222" stroke-width="1.3" stroke-dasharray="2.6,2"/>
<path d="M77.3,10 V281.3 H509.8" fill="none" stroke="#000" stroke-width="1.4"/>
<line x1="73" y1="269.1" x2="77.3" y2="269.1" stroke="#222" stroke-width="1.2"/>
<text x="67.6" y="272.2" font-size="9.5" text-anchor="end" fill="#222">0.00</text>
<line x1="73" y1="207.5" x2="77.3" y2="207.5" stroke="#222" stroke-width="1.2"/>
<text x="67.6" y="210.6" font-size="9.5" text-anchor="end" fill="#222">0.25</text>
<line x1="73" y1="145.9" x2="77.3" y2="145.9" stroke="#222" stroke-width="1.2"/>
<text x="67.6" y="149.0" font-size="9.5" text-anchor="end" fill="#222">0.50</text>
<line x1="73" y1="84.2" x2="77.3" y2="84.2" stroke="#222" stroke-width="1.2"/>
<text x="67.6" y="87.3" font-size="9.5" text-anchor="end" fill="#222">0.75</text>
<line x1="73" y1="22.6" x2="77.3" y2="22.6" stroke="#222" stroke-width="1.2"/>
<text x="67.6" y="25.7" font-size="9.5" text-anchor="end" fill="#222">1.00</text>
<line x1="97.0" y1="281.3" x2="97.0" y2="285.6" stroke="#222" stroke-width="1.2"/>
<text x="97.0" y="298.6" font-size="9.5" text-anchor="middle" fill="#222">0</text>
<line x1="128.4" y1="281.3" x2="128.4" y2="285.6" stroke="#222" stroke-width="1.2"/>
<text x="128.4" y="298.6" font-size="9.5" text-anchor="middle" fill="#222">1</text>
<line x1="159.9" y1="281.3" x2="159.9" y2="285.6" stroke="#222" stroke-width="1.2"/>
<text x="159.9" y="298.6" font-size="9.5" text-anchor="middle" fill="#222">2</text>
<line x1="191.3" y1="281.3" x2="191.3" y2="285.6" stroke="#222" stroke-width="1.2"/>
<text x="191.3" y="298.6" font-size="9.5" text-anchor="middle" fill="#222">3</text>
<line x1="222.7" y1="281.3" x2="222.7" y2="285.6" stroke="#222" stroke-width="1.2"/>
<text x="222.7" y="298.6" font-size="9.5" text-anchor="middle" fill="#222">4</text>
<line x1="254.2" y1="281.3" x2="254.2" y2="285.6" stroke="#222" stroke-width="1.2"/>
<text x="254.2" y="298.6" font-size="9.5" text-anchor="middle" fill="#222">5</text>
<line x1="285.6" y1="281.3" x2="285.6" y2="285.6" stroke="#222" stroke-width="1.2"/>
<text x="285.6" y="298.6" font-size="9.5" text-anchor="middle" fill="#222">6</text>
<line x1="317.0" y1="281.3" x2="317.0" y2="285.6" stroke="#222" stroke-width="1.2"/>
<text x="317.0" y="298.6" font-size="9.5" text-anchor="middle" fill="#222">7</text>
<line x1="348.4" y1="281.3" x2="348.4" y2="285.6" stroke="#222" stroke-width="1.2"/>
<text x="348.4" y="298.6" font-size="9.5" text-anchor="middle" fill="#222">8</text>
<line x1="379.9" y1="281.3" x2="379.9" y2="285.6" stroke="#222" stroke-width="1.2"/>
<text x="379.9" y="298.6" font-size="9.5" text-anchor="middle" fill="#222">9</text>
<line x1="411.3" y1="281.3" x2="411.3" y2="285.6" stroke="#222" stroke-width="1.2"/>
<text x="411.3" y="298.6" font-size="9.5" text-anchor="middle" fill="#222">10</text>
<line x1="442.7" y1="281.3" x2="442.7" y2="285.6" stroke="#222" stroke-width="1.2"/>
<text x="442.7" y="298.6" font-size="9.5" text-anchor="middle" fill="#222">11</text>
<line x1="474.2" y1="281.3" x2="474.2" y2="285.6" stroke="#222" stroke-width="1.2"/>
<text x="474.2" y="298.6" font-size="9.5" text-anchor="middle" fill="#222">12</text>
<text transform="translate(293.8,316.5) scale(0.74,1)" font-size="11.4" text-anchor="middle" fill="#111" stroke="#111" stroke-width="0.25">Time</text>
<text transform="translate(41,145.7) rotate(-90) scale(0.765,1)" font-size="11.4" text-anchor="middle" fill="#111" stroke="#111" stroke-width="0.18">Survival probability</text>
<text x="97.9" y="269.9" font-size="9.2" fill="#222"><tspan font-style="italic">P</tspan> &lt; .001</text>
<rect x="241.7" y="10.9" width="176.5" height="71.9" fill="#fff" stroke="#222" stroke-width="1.2"/>
<line x1="311" y1="10.9" x2="311" y2="82.8" stroke="#222" stroke-width="1.2"/>
<line x1="241.7" y1="27.9" x2="418.2" y2="27.9" stroke="#222" stroke-width="1.2"/>
<line x1="241.7" y1="45.5" x2="418.2" y2="45.5" stroke="#222" stroke-width="1.2"/>
<line x1="241.7" y1="62.4" x2="418.2" y2="62.4" stroke="#222" stroke-width="1.2"/>
<text x="246.5" y="23.7" font-size="9.35" fill="#222">ALC Category</text>
<text x="315.5" y="23.7" font-size="9.35" fill="#222">Median Survival (Years)</text>
<text x="246.5" y="40.9" font-size="9.35" fill="#222">Normal</text>
<text x="315.5" y="40.9" font-size="9.35" fill="#222">4.7</text>
<text x="246.5" y="56.7" font-size="9.35" fill="#222">Low</text>
<text x="315.5" y="56.7" font-size="9.35" fill="#222">4.0</text>
<text x="246.5" y="75.8" font-size="9.35" fill="#222">Severely Low</text>
<text x="315.5" y="75.8" font-size="9.35" fill="#222">2.6</text>
<text x="78" y="332.9" font-size="9.1" fill="#222">Number at risk</text>
<path d="M77.3,340.5 V400 H509.5" fill="none" stroke="#000" stroke-width="1.4"/>
<line x1="72.8" y1="351.3" x2="77.3" y2="351.3" stroke="#222" stroke-width="1.2"/>
<text x="68" y="354.5" font-size="9.1" text-anchor="end" fill="#b52450">Normal</text>
<text x="97.0" y="354.9" font-size="9.9" text-anchor="middle" fill="#222">1814</text>
<text x="128.4" y="354.9" font-size="9.9" text-anchor="middle" fill="#222">1434</text>
<text x="159.9" y="354.9" font-size="9.9" text-anchor="middle" fill="#222">1148</text>
<text x="191.3" y="354.9" font-size="9.9" text-anchor="middle" fill="#222">863</text>
<text x="222.7" y="354.9" font-size="9.9" text-anchor="middle" fill="#222">627</text>
<text x="254.2" y="354.9" font-size="9.9" text-anchor="middle" fill="#222">461</text>
<text x="285.6" y="354.9" font-size="9.9" text-anchor="middle" fill="#222">351</text>
<text x="317.0" y="354.9" font-size="9.9" text-anchor="middle" fill="#222">253</text>
<text x="348.4" y="354.9" font-size="9.9" text-anchor="middle" fill="#222">193</text>
<text x="379.9" y="354.9" font-size="9.9" text-anchor="middle" fill="#222">129</text>
<text x="411.3" y="354.9" font-size="9.9" text-anchor="middle" fill="#222">92</text>
<text x="442.7" y="354.9" font-size="9.9" text-anchor="middle" fill="#222">61</text>
<text x="474.2" y="354.9" font-size="9.9" text-anchor="middle" fill="#222">42</text>
<line x1="72.8" y1="370" x2="77.3" y2="370" stroke="#222" stroke-width="1.2"/>
<text x="68" y="373.2" font-size="9.1" text-anchor="end" fill="#e89a2e">Low</text>
<text x="97.0" y="373.6" font-size="9.9" text-anchor="middle" fill="#222">1428</text>
<text x="128.4" y="373.6" font-size="9.9" text-anchor="middle" fill="#222">1067</text>
<text x="159.9" y="373.6" font-size="9.9" text-anchor="middle" fill="#222">770</text>
<text x="191.3" y="373.6" font-size="9.9" text-anchor="middle" fill="#222">568</text>
<text x="222.7" y="373.6" font-size="9.9" text-anchor="middle" fill="#222">420</text>
<text x="254.2" y="373.6" font-size="9.9" text-anchor="middle" fill="#222">296</text>
<text x="285.6" y="373.6" font-size="9.9" text-anchor="middle" fill="#222">209</text>
<text x="317.0" y="373.6" font-size="9.9" text-anchor="middle" fill="#222">147</text>
<text x="348.4" y="373.6" font-size="9.9" text-anchor="middle" fill="#222">101</text>
<text x="379.9" y="373.6" font-size="9.9" text-anchor="middle" fill="#222">73</text>
<text x="411.3" y="373.6" font-size="9.9" text-anchor="middle" fill="#222">52</text>
<text x="442.7" y="373.6" font-size="9.9" text-anchor="middle" fill="#222">39</text>
<text x="474.2" y="373.6" font-size="9.9" text-anchor="middle" fill="#222">23</text>
<line x1="72.8" y1="388.8" x2="77.3" y2="388.8" stroke="#222" stroke-width="1.2"/>
<text x="68" y="392.0" font-size="9.1" text-anchor="end" fill="#4ea84e">Severe_low</text>
<text x="97.0" y="392.4" font-size="9.9" text-anchor="middle" fill="#222">1414</text>
<text x="128.4" y="392.4" font-size="9.9" text-anchor="middle" fill="#222">931</text>
<text x="159.9" y="392.4" font-size="9.9" text-anchor="middle" fill="#222">616</text>
<text x="191.3" y="392.4" font-size="9.9" text-anchor="middle" fill="#222">422</text>
<text x="222.7" y="392.4" font-size="9.9" text-anchor="middle" fill="#222">280</text>
<text x="254.2" y="392.4" font-size="9.9" text-anchor="middle" fill="#222">176</text>
<text x="285.6" y="392.4" font-size="9.9" text-anchor="middle" fill="#222">125</text>
<text x="317.0" y="392.4" font-size="9.9" text-anchor="middle" fill="#222">90</text>
<text x="348.4" y="392.4" font-size="9.9" text-anchor="middle" fill="#222">64</text>
<text x="379.9" y="392.4" font-size="9.9" text-anchor="middle" fill="#222">40</text>
<text x="411.3" y="392.4" font-size="9.9" text-anchor="middle" fill="#222">24</text>
<text x="442.7" y="392.4" font-size="9.9" text-anchor="middle" fill="#222">16</text>
<text x="474.2" y="392.4" font-size="9.9" text-anchor="middle" fill="#222">11</text>
<line x1="97.0" y1="400" x2="97.0" y2="404.3" stroke="#222" stroke-width="1.2"/>
<text x="97.0" y="417.9" font-size="9.5" text-anchor="middle" fill="#222">0</text>
<line x1="128.4" y1="400" x2="128.4" y2="404.3" stroke="#222" stroke-width="1.2"/>
<text x="128.4" y="417.9" font-size="9.5" text-anchor="middle" fill="#222">1</text>
<line x1="159.9" y1="400" x2="159.9" y2="404.3" stroke="#222" stroke-width="1.2"/>
<text x="159.9" y="417.9" font-size="9.5" text-anchor="middle" fill="#222">2</text>
<line x1="191.3" y1="400" x2="191.3" y2="404.3" stroke="#222" stroke-width="1.2"/>
<text x="191.3" y="417.9" font-size="9.5" text-anchor="middle" fill="#222">3</text>
<line x1="222.7" y1="400" x2="222.7" y2="404.3" stroke="#222" stroke-width="1.2"/>
<text x="222.7" y="417.9" font-size="9.5" text-anchor="middle" fill="#222">4</text>
<line x1="254.2" y1="400" x2="254.2" y2="404.3" stroke="#222" stroke-width="1.2"/>
<text x="254.2" y="417.9" font-size="9.5" text-anchor="middle" fill="#222">5</text>
<line x1="285.6" y1="400" x2="285.6" y2="404.3" stroke="#222" stroke-width="1.2"/>
<text x="285.6" y="417.9" font-size="9.5" text-anchor="middle" fill="#222">6</text>
<line x1="317.0" y1="400" x2="317.0" y2="404.3" stroke="#222" stroke-width="1.2"/>
<text x="317.0" y="417.9" font-size="9.5" text-anchor="middle" fill="#222">7</text>
<line x1="348.4" y1="400" x2="348.4" y2="404.3" stroke="#222" stroke-width="1.2"/>
<text x="348.4" y="417.9" font-size="9.5" text-anchor="middle" fill="#222">8</text>
<line x1="379.9" y1="400" x2="379.9" y2="404.3" stroke="#222" stroke-width="1.2"/>
<text x="379.9" y="417.9" font-size="9.5" text-anchor="middle" fill="#222">9</text>
<line x1="411.3" y1="400" x2="411.3" y2="404.3" stroke="#222" stroke-width="1.2"/>
<text x="411.3" y="417.9" font-size="9.5" text-anchor="middle" fill="#222">10</text>
<line x1="442.7" y1="400" x2="442.7" y2="404.3" stroke="#222" stroke-width="1.2"/>
<text x="442.7" y="417.9" font-size="9.5" text-anchor="middle" fill="#222">11</text>
<line x1="474.2" y1="400" x2="474.2" y2="404.3" stroke="#222" stroke-width="1.2"/>
<text x="474.2" y="417.9" font-size="9.5" text-anchor="middle" fill="#222">12</text>
<text transform="translate(293.8,435.3) scale(0.74,1)" font-size="11.4" text-anchor="middle" fill="#111" stroke="#111" stroke-width="0.25">Time</text>
<text transform="translate(18.5,369.8) rotate(-90) scale(0.69,1)" font-size="12.6" text-anchor="middle" fill="#111" stroke="#111" stroke-width="0.45">ALC at year 2</text>
<text x="245.5" y="451.8" font-size="9.1" text-anchor="end" fill="#222">ALC at year 2</text>
<line x1="250.5" y1="448.8" x2="263.5" y2="448.8" stroke="#aa1030" stroke-width="2"/>
<text x="268.2" y="451.8" font-size="9.1" fill="#222">Normal</text>
<line x1="306.4" y1="448.8" x2="319.7" y2="448.8" stroke="#ea8c12" stroke-width="2"/>
<text x="324.2" y="451.8" font-size="9.1" fill="#222">Low</text>
<line x1="350.4" y1="448.8" x2="363.6" y2="448.8" stroke="#36a036" stroke-width="2"/>
<text x="368.6" y="451.8" font-size="9.1" fill="#222">Severe_low</text>
<text transform="translate(7.7,491.9) scale(0.98,1)" font-size="17" font-weight="bold" fill="#000" stroke="#000" stroke-width="0.35">D</text>
<polyline points="97.1,488.3 97.9,488.3 97.9,489.2 98.7,489.2 98.7,490.0 99.5,490.0 99.5,490.9 100.3,490.9 100.3,491.8 101.1,491.8 101.1,492.6 101.9,492.6 101.9,493.5 103.1,493.5 103.1,494.5 104.2,494.5 104.2,495.4 105.3,495.4 105.3,496.4 106.5,496.4 106.5,497.4 107.7,497.4 107.7,498.3 108.8,498.3 108.8,499.3 109.6,499.3 109.6,500.3 110.4,500.3 110.4,501.2 111.2,501.2 111.2,502.2 111.9,502.2 111.9,503.2 112.7,503.2 112.7,504.1 113.5,504.1 113.5,505.1 114.4,505.1 114.4,506.0 115.3,506.0 115.3,506.9 116.3,506.9 116.3,507.9 117.2,507.9 117.2,508.8 118.1,508.8 118.1,509.7 119.2,509.7 119.2,510.7 120.4,510.7 120.4,511.7 121.5,511.7 121.5,512.7 122.7,512.7 122.7,513.7 124.2,513.7 124.2,514.5 125.8,514.5 125.8,515.2 127.3,515.2 127.3,516.0 128.0,516.0 128.0,516.8 128.7,516.8 128.7,517.6 129.4,517.6 129.4,518.5 130.1,518.5 130.1,519.3 130.8,519.3 130.8,520.1 131.9,520.1 131.9,521.1 133.1,521.1 133.1,522.0 134.2,522.0 134.2,523.0 135.4,523.0 135.4,523.8 136.5,523.8 136.5,524.5 137.7,524.5 137.7,525.3 138.4,525.3 138.4,526.1 139.1,526.1 139.1,527.0 139.9,527.0 139.9,527.9 140.6,527.9 140.6,528.7 141.9,528.7 141.9,529.5 143.3,529.5 143.3,530.2 144.6,530.2 144.6,531.0 145.8,531.0 145.8,531.8 146.9,531.8 146.9,532.7 148.1,532.7 148.1,533.5 149.1,533.5 149.1,534.4 150.0,534.4 150.0,535.2 150.9,535.2 150.9,536.0 151.9,536.0 151.9,536.9 152.8,536.9 152.8,537.8 153.7,537.8 153.7,538.6 154.5,538.6 154.5,539.5 155.4,539.5 155.4,540.4 156.1,540.4 156.1,541.3 156.8,541.3 156.8,542.2 157.4,542.2 157.4,543.2 158.1,543.2 158.1,544.1 158.8,544.1 158.8,545.0 159.6,545.0 159.6,545.9 160.4,545.9 160.4,546.8 161.1,546.8 161.1,547.8 161.9,547.8 161.9,548.7 162.7,548.7 162.7,549.6 164.1,549.6 164.1,550.5 165.6,550.5 165.6,551.4 167.1,551.4 167.1,552.2 168.5,552.2 168.5,553.1 169.9,553.1 169.9,554.0 171.3,554.0 171.3,554.8 172.8,554.8 172.8,555.6 174.2,555.6 174.2,556.5 175.3,556.5 175.3,557.4 176.5,557.4 176.5,558.2 177.7,558.2 177.7,559.1 178.8,559.1 178.8,560.0 179.8,560.0 179.8,561.0 180.7,561.0 180.7,561.9 181.7,561.9 181.7,562.9 182.7,562.9 182.7,563.9 183.6,563.9 183.6,564.8 184.6,564.8 184.6,565.8 186.1,565.8 186.1,566.6 187.5,566.6 187.5,567.5 188.9,567.5 188.9,568.4 190.4,568.4 190.4,569.2 191.6,569.2 191.6,570.1 192.7,570.1 192.7,571.0 193.9,571.0 193.9,572.0 195.0,572.0 195.0,572.9 196.2,572.9 196.2,573.8 197.3,573.8 197.3,574.7 198.5,574.7 198.5,575.7 199.6,575.7 199.6,576.6 200.8,576.6 200.8,577.6 201.9,577.6 201.9,578.5 203.1,578.5 203.1,579.4 204.2,579.4 204.2,580.2 205.3,580.2 205.3,581.1 206.5,581.1 206.5,582.0 208.1,582.0 208.1,583.1 209.6,583.1 209.6,584.2 210.5,584.2 210.5,585.0 211.4,585.0 211.4,585.8 212.4,585.8 212.4,586.7 213.3,586.7 213.3,587.5 214.2,587.5 214.2,588.3 215.1,588.3 215.1,589.3 215.9,589.3 215.9,590.3 216.8,590.3 216.8,591.3 217.7,591.3 217.7,592.3 219.1,592.3 219.1,593.2 220.6,593.2 220.6,594.0 222.1,594.0 222.1,594.9 223.5,594.9 223.5,595.8 224.9,595.8 224.9,596.6 226.3,596.6 226.3,597.5 227.8,597.5 227.8,598.4 229.2,598.4 229.2,599.2 230.4,599.2 230.4,600.0 231.5,600.0 231.5,600.8 232.7,600.8 232.7,601.7 233.8,601.7 233.8,602.5 235.0,602.5 235.0,603.3 236.5,603.3 236.5,603.8 238.1,603.8 238.1,604.3 239.6,604.3 239.6,604.8 241.1,604.8 241.1,605.4 242.5,605.4 242.5,606.0 243.9,606.0 243.9,606.7 245.4,606.7 245.4,607.3 246.8,607.3 246.8,608.0 248.3,608.0 248.3,608.8 249.8,608.8 249.8,609.5 251.2,609.5 251.2,610.2 252.3,610.2 252.3,611.2 253.5,611.2 253.5,612.1 254.6,612.1 254.6,613.1 256.1,613.1 256.1,613.9 257.7,613.9 257.7,614.6 259.2,614.6 259.2,615.4 261.0,615.4 261.0,616.4 262.8,616.4 262.8,617.3 264.6,617.3 264.6,618.3 266.1,618.3 266.1,619.1 267.7,619.1 267.7,619.8 269.2,619.8 269.2,620.6 270.7,620.6 270.7,621.6 272.3,621.6 272.3,622.5 273.8,622.5 273.8,623.5 275.4,623.5 275.4,623.9 276.9,623.9 276.9,624.2 278.5,624.2 278.5,624.6 279.6,624.6 279.6,625.4 280.8,625.4 280.8,626.1 281.9,626.1 281.9,626.9 283.6,626.9 283.6,627.8 285.4,627.8 285.4,628.7 286.2,628.7 286.2,629.6 286.9,629.6 286.9,630.4 287.7,630.4 287.7,631.2 288.5,631.2 288.5,632.1 289.2,632.1 289.2,632.9 290.0,632.9 290.0,633.8 291.5,633.8 291.5,634.6 293.1,634.6 293.1,635.4 294.6,635.4 294.6,636.2 296.1,636.2 296.1,636.8 297.5,636.8 297.5,637.4 298.9,637.4 298.9,637.9 300.4,637.9 300.4,638.5 301.8,638.5 301.8,639.1 303.3,639.1 303.3,639.6 304.8,639.6 304.8,640.2 306.2,640.2 306.2,640.8 307.3,640.8 307.3,641.8 308.5,641.8 308.5,642.7 309.6,642.7 309.6,643.7 311.1,643.7 311.1,644.0 312.5,644.0 312.5,644.2 313.9,644.2 313.9,644.5 315.4,644.5 315.4,644.8 316.8,644.8 316.8,645.6 318.2,645.6 318.2,646.3 319.6,646.3 319.6,647.1 321.1,647.1 321.1,647.8 322.5,647.8 322.5,648.5 323.9,648.5 323.9,649.3 325.4,649.3 325.4,650.0 327.1,650.0 327.1,650.3 328.9,650.3 328.9,650.6 330.6,650.6 330.6,650.9 332.3,650.9 332.3,651.2 333.5,651.2 333.5,652.0 334.6,652.0 334.6,652.7 335.8,652.7 335.8,653.5 336.9,653.5 336.9,654.3 338.1,654.3 338.1,655.0 339.2,655.0 339.2,655.8 340.6,655.8 340.6,656.4 342.1,656.4 342.1,657.0 343.6,657.0 343.6,657.6 345.0,657.6 345.0,658.2 346.4,658.2 346.4,658.7 347.9,658.7 347.9,659.1 349.4,659.1 349.4,659.5 350.8,659.5 350.8,660.0 352.2,660.0 352.2,660.4 353.6,660.4 353.6,660.8 355.1,660.8 355.1,661.1 356.5,661.1 356.5,661.5 357.7,661.5 357.7,662.5 358.8,662.5 358.8,663.4 360.0,663.4 360.0,664.4 361.5,664.4 361.5,664.8 363.1,664.8 363.1,665.2 364.6,665.2 364.6,665.6 366.1,665.6 366.1,666.4 367.7,666.4 367.7,667.1 369.2,667.1 369.2,667.9 370.6,667.9 370.6,668.2 372.1,668.2 372.1,668.5 373.6,668.5 373.6,668.7 375.0,668.7 375.0,669.0 376.5,669.0 376.5,669.6 378.1,669.6 378.1,670.2 379.6,670.2 379.6,670.8 381.1,670.8 381.1,671.5 382.5,671.5 382.5,672.2 383.9,672.2 383.9,673.0 385.4,673.0 385.4,673.7 386.8,673.7 386.8,674.3 388.3,674.3 388.3,674.9 389.8,674.9 389.8,675.4 391.2,675.4 391.2,676.0 392.6,676.0 392.6,676.4 394.0,676.4 394.0,676.9 395.5,676.9 395.5,677.3 396.9,677.3 396.9,677.7 398.3,677.7 398.3,678.3 399.8,678.3 399.8,678.9 401.2,678.9 401.2,679.4 402.7,679.4 402.7,680.0 403.9,680.0 403.9,680.9 405.0,680.9 405.0,681.7 406.4,681.7 406.4,682.1 407.9,682.1 407.9,682.5 409.4,682.5 409.4,682.8 410.8,682.8 410.8,683.2 413.1,683.2 413.1,684.0 421.2,684.0 422.6,684.0 422.6,684.3 424.0,684.3 424.0,684.6 425.5,684.6 425.5,684.9 426.9,684.9 426.9,685.2 429.2,685.2 429.2,686.3 430.8,686.3 430.8,686.4 432.3,686.4 432.3,686.6 433.9,686.6 433.9,686.8 435.4,686.8 435.4,686.9 436.9,686.9 436.9,687.1 438.5,687.1 438.5,687.2 440.2,687.2 440.2,688.0 441.9,688.0 441.9,688.9 443.6,688.9 443.6,689.0 445.2,689.0 445.2,689.0 446.9,689.0 446.9,689.1 448.6,689.1 448.6,689.2 450.2,689.2 450.2,689.3 451.9,689.3 451.9,689.3 453.6,689.3 453.6,689.4 455.2,689.4 455.2,689.5 456.9,689.5 456.9,689.6 458.6,689.6 458.6,689.6 460.2,689.6 460.2,689.7 461.9,689.7 461.9,689.8 463.0,689.8 463.0,690.5 464.2,690.5 464.2,691.2 465.9,691.2 465.9,691.5 467.7,691.5 467.7,691.7 468.5,691.7 468.5,692.5 469.2,692.5 469.2,693.2 470.0,693.2 470.0,694.0 471.5,694.0 471.5,695.0 473.1,695.0 473.1,695.9 474.6,695.9 474.6,696.9 476.3,696.9 476.3,696.9 477.9,696.9 477.9,697.0 479.6,697.0 479.6,697.0 481.3,697.0 481.3,697.0 482.9,697.0 482.9,697.1 484.6,697.1 484.6,697.1 486.3,697.1 486.3,697.1 487.9,697.1 487.9,697.2 489.6,697.2 489.6,697.2" fill="none" stroke="#aa1030" stroke-width="1.45" stroke-linejoin="round"/>
<polyline points="97.1,488.3 97.9,488.3 97.9,489.3 98.7,489.3 98.7,490.2 99.5,490.2 99.5,491.2 100.3,491.2 100.3,492.2 101.1,492.2 101.1,493.1 101.9,493.1 101.9,494.1 102.8,494.1 102.8,494.9 103.7,494.9 103.7,495.7 104.7,495.7 104.7,496.6 105.6,496.6 105.6,497.4 106.5,497.4 106.5,498.2 107.3,498.2 107.3,499.1 108.1,499.1 108.1,500.1 108.8,500.1 108.8,501.0 109.6,501.0 109.6,502.0 110.4,502.0 110.4,502.9 111.2,502.9 111.2,503.9 112.1,503.9 112.1,504.8 113.0,504.8 113.0,505.7 114.0,505.7 114.0,506.7 114.9,506.7 114.9,507.6 115.8,507.6 115.8,508.5 116.6,508.5 116.6,509.5 117.3,509.5 117.3,510.4 118.1,510.4 118.1,511.4 118.9,511.4 118.9,512.4 119.6,512.4 119.6,513.3 120.4,513.3 120.4,514.3 121.3,514.3 121.3,515.2 122.2,515.2 122.2,516.1 123.2,516.1 123.2,517.1 124.1,517.1 124.1,518.0 125.0,518.0 125.0,518.9 126.2,518.9 126.2,519.9 127.3,519.9 127.3,520.8 128.5,520.8 128.5,521.8 129.1,521.8 129.1,522.7 129.6,522.7 129.6,523.5 130.2,523.5 130.2,524.4 130.8,524.4 130.8,525.3 131.3,525.3 131.3,526.1 131.9,526.1 131.9,527.0 132.6,527.0 132.6,528.0 133.3,528.0 133.3,529.0 134.0,529.0 134.0,530.0 134.8,530.0 134.8,530.9 135.6,530.9 135.6,531.8 136.5,531.8 136.5,532.8 137.3,532.8 137.3,533.7 138.1,533.7 138.1,534.6 138.9,534.6 138.9,535.6 139.6,535.6 139.6,536.5 140.4,536.5 140.4,537.5 141.2,537.5 141.2,538.5 141.9,538.5 141.9,539.4 142.7,539.4 142.7,540.4 143.5,540.4 143.5,541.4 144.2,541.4 144.2,542.3 145.0,542.3 145.0,543.3 145.8,543.3 145.8,544.3 146.5,544.3 146.5,545.2 147.3,545.2 147.3,546.2 148.2,546.2 148.2,547.1 149.1,547.1 149.1,548.1 150.0,548.1 150.0,549.0 150.6,549.0 150.6,549.9 151.2,549.9 151.2,550.9 151.7,550.9 151.7,551.8 152.3,551.8 152.3,552.8 152.9,552.8 152.9,553.7 153.4,553.7 153.4,554.6 154.0,554.6 154.0,555.6 154.6,555.6 154.6,556.5 155.2,556.5 155.2,557.4 155.8,557.4 155.8,558.2 156.3,558.2 156.3,559.1 156.9,559.1 156.9,560.0 157.5,560.0 157.5,560.9 158.0,560.9 158.0,561.8 158.6,561.8 158.6,562.6 159.2,562.6 159.2,563.5 160.2,563.5 160.2,564.5 161.1,564.5 161.1,565.4 162.1,565.4 162.1,566.4 163.1,566.4 163.1,567.3 164.0,567.3 164.0,568.2 165.0,568.2 165.0,569.2 166.2,569.2 166.2,570.1 167.3,570.1 167.3,571.0 168.5,571.0 168.5,572.0 169.6,572.0 169.6,572.9 170.8,572.9 170.8,573.8 171.8,573.8 171.8,574.8 172.7,574.8 172.7,575.7 173.7,575.7 173.7,576.7 174.6,576.7 174.6,577.7 175.6,577.7 175.6,578.6 176.5,578.6 176.5,579.6 177.4,579.6 177.4,580.4 178.4,580.4 178.4,581.2 179.3,581.2 179.3,582.1 180.3,582.1 180.3,582.9 181.2,582.9 181.2,583.7 181.9,583.7 181.9,584.6 182.6,584.6 182.6,585.5 183.2,585.5 183.2,586.5 183.9,586.5 183.9,587.4 184.6,587.4 184.6,588.3 185.6,588.3 185.6,589.2 186.6,589.2 186.6,590.0 187.6,590.0 187.6,590.9 188.6,590.9 188.6,591.8 189.6,591.8 189.6,592.6 190.6,592.6 190.6,593.5 192.3,593.5 192.3,594.5 194.1,594.5 194.1,595.6 195.8,595.6 195.8,596.6 197.2,596.6 197.2,597.4 198.7,597.4 198.7,598.2 200.1,598.2 200.1,599.0 201.5,599.0 201.5,599.8 202.9,599.8 202.9,600.6 204.4,600.6 204.4,601.3 205.8,601.3 205.8,602.1 207.8,602.1 207.8,602.9 209.7,602.9 209.7,603.6 210.4,603.6 210.4,604.5 211.1,604.5 211.1,605.3 211.7,605.3 211.7,606.2 212.4,606.2 212.4,607.0 213.1,607.0 213.1,607.9 213.8,607.9 213.8,608.8 214.5,608.8 214.5,609.7 215.1,609.7 215.1,610.7 215.8,610.7 215.8,611.6 216.5,611.6 216.5,612.5 217.4,612.5 217.4,613.5 218.2,613.5 218.2,614.5 219.1,614.5 219.1,615.5 220.0,615.5 220.0,616.5 221.2,616.5 221.2,617.5 222.3,617.5 222.3,618.4 223.5,618.4 223.5,619.4 225.1,619.4 225.1,620.1 226.8,620.1 226.8,620.8 228.4,620.8 228.4,621.6 230.0,621.6 230.0,622.3 231.2,622.3 231.2,623.2 232.3,623.2 232.3,624.0 233.4,624.0 233.4,624.9 234.6,624.9 234.6,625.8 235.8,625.8 235.8,626.8 236.9,626.8 236.9,627.8 238.0,627.8 238.0,628.8 239.2,628.8 239.2,629.8 240.7,629.8 240.7,630.8 242.3,630.8 242.3,631.7 243.8,631.7 243.8,632.7 245.6,632.7 245.6,633.1 247.4,633.1 247.4,633.6 249.2,633.6 249.2,634.0 250.9,634.0 250.9,634.9 252.5,634.9 252.5,635.8 254.2,635.8 254.2,636.7 255.7,636.7 255.7,636.9 257.3,636.9 257.3,637.1 258.8,637.1 258.8,637.3 260.4,637.3 260.4,637.9 261.9,637.9 261.9,638.4 263.5,638.4 263.5,639.0 264.6,639.0 264.6,640.0 265.8,640.0 265.8,640.9 267.0,640.9 267.0,641.8 268.1,641.8 268.1,642.8 269.6,642.8 269.6,643.4 271.2,643.4 271.2,643.9 272.7,643.9 272.7,644.5 274.1,644.5 274.1,644.9 275.6,644.9 275.6,645.2 277.1,645.2 277.1,645.6 278.5,645.6 278.5,646.0 279.9,646.0 279.9,646.4 281.4,646.4 281.4,646.9 282.8,646.9 282.8,647.3 284.2,647.3 284.2,647.7 285.6,647.7 285.6,648.1 287.1,648.1 287.1,648.5 288.6,648.5 288.6,649.0 290.0,649.0 290.0,649.4 291.4,649.4 291.4,650.0 292.9,650.0 292.9,650.5 294.4,650.5 294.4,651.1 295.8,651.1 295.8,651.7 297.3,651.7 297.3,652.3 298.9,652.3 298.9,652.9 300.4,652.9 300.4,653.5 301.9,653.5 301.9,653.8 303.5,653.8 303.5,654.1 305.0,654.1 305.0,654.4 305.8,654.4 305.8,655.3 306.6,655.3 306.6,656.2 307.5,656.2 307.5,657.2 308.3,657.2 308.3,658.1 309.6,658.1 309.6,658.9 310.9,658.9 310.9,659.7 312.2,659.7 312.2,660.5 313.5,660.5 313.5,661.3 315.3,661.3 315.3,661.7 317.2,661.7 317.2,662.1 319.0,662.1 319.0,662.5 320.7,662.5 320.7,663.1 322.5,663.1 322.5,663.6 324.2,663.6 324.2,664.2 325.6,664.2 325.6,664.5 327.1,664.5 327.1,664.8 328.6,664.8 328.6,665.0 330.0,665.0 330.0,665.3 331.6,665.3 331.6,665.7 333.2,665.7 333.2,666.1 334.9,666.1 334.9,666.5 336.5,666.5 336.5,666.9 338.1,666.9 338.1,667.3 339.8,667.3 339.8,668.0 341.6,668.0 341.6,668.8 343.3,668.8 343.3,669.5 345.0,669.5 345.0,670.2 346.7,670.2 346.7,671.0 348.4,671.0 348.4,671.8 350.2,671.8 350.2,672.6 351.9,672.6 351.9,673.4 353.3,673.4 353.3,674.2 354.8,674.2 354.8,675.1 356.2,675.1 356.2,675.9 357.7,675.9 357.7,676.8 359.4,676.8 359.4,677.1 361.1,677.1 361.1,677.4 362.9,677.4 362.9,677.7 364.6,677.7 364.6,678.0 366.3,678.0 366.3,678.5 368.1,678.5 368.1,679.0 369.8,679.0 369.8,679.5 371.5,679.5 371.5,680.0 373.1,680.0 373.1,680.2 374.7,680.2 374.7,680.5 376.4,680.5 376.4,680.7 378.0,680.7 378.0,681.0 379.6,681.0 379.6,681.2 381.1,681.2 381.1,681.8 382.5,681.8 382.5,682.4 383.9,682.4 383.9,682.9 385.4,682.9 385.4,683.5 387.1,683.5 387.1,684.0 388.9,684.0 388.9,684.4 390.6,684.4 390.6,684.9 392.3,684.9 392.3,685.4 394.1,685.4 394.1,685.9 395.8,685.9 395.8,686.4 397.5,686.4 397.5,687.1 399.2,687.1 399.2,687.8 401.0,687.8 401.0,688.5 402.7,688.5 402.7,689.2 404.1,689.2 404.1,689.3 405.6,689.3 405.6,689.4 407.1,689.4 407.1,689.4 408.5,689.4 408.5,689.5 410.0,689.5 410.0,690.1 411.6,690.1 411.6,690.7 413.1,690.7 413.1,691.3 414.8,691.3 414.8,691.9 416.6,691.9 416.6,692.5 418.3,692.5 418.3,693.2 420.0,693.2 420.0,693.8 421.7,693.8 421.7,694.1 423.4,694.1 423.4,694.5 425.2,694.5 425.2,694.9 426.9,694.9 426.9,695.2 428.4,695.2 428.4,695.7 430.0,695.7 430.0,696.2 431.5,696.2 431.5,696.7 448.1,696.7 449.0,696.7 449.0,697.7 449.8,697.7 449.8,698.7 468.8,698.7 470.0,698.7 470.0,699.5 471.2,699.5 471.2,700.4 473.5,700.4 473.5,701.3 475.1,701.3 475.1,701.3 476.8,701.3 476.8,701.4 478.4,701.4 478.4,701.4 480.1,701.4 480.1,701.4 481.7,701.4 481.7,701.4 483.4,701.4 483.4,701.5 485.0,701.5 485.0,701.5 485.6,701.5 485.6,702.2 486.2,702.2 486.2,702.9 489.6,702.9" fill="none" stroke="#ea8c12" stroke-width="1.45" stroke-linejoin="round"/>
<polyline points="97.1,488.3 97.6,488.3 97.6,489.1 98.1,489.1 98.1,489.9 98.6,489.9 98.6,490.8 99.1,490.8 99.1,491.6 99.6,491.6 99.6,492.4 100.0,492.4 100.0,493.4 100.4,493.4 100.4,494.3 100.8,494.3 100.8,495.3 101.1,495.3 101.1,496.3 101.5,496.3 101.5,497.2 101.9,497.2 101.9,498.2 102.3,498.2 102.3,499.1 102.7,499.1 102.7,500.1 103.1,500.1 103.1,501.0 103.4,501.0 103.4,502.0 103.8,502.0 103.8,502.9 104.2,502.9 104.2,503.9 104.6,503.9 104.6,504.9 105.0,504.9 105.0,505.8 105.3,505.8 105.3,506.8 105.7,506.8 105.7,507.8 106.1,507.8 106.1,508.7 106.5,508.7 106.5,509.7 107.1,509.7 107.1,510.7 107.7,510.7 107.7,511.6 108.2,511.6 108.2,512.6 108.8,512.6 108.8,513.6 109.4,513.6 109.4,514.5 110.0,514.5 110.0,515.5 110.4,515.5 110.4,516.5 110.8,516.5 110.8,517.4 111.2,517.4 111.2,518.4 111.5,518.4 111.5,519.3 111.9,519.3 111.9,520.2 112.3,520.2 112.3,521.2 112.8,521.2 112.8,522.2 113.3,522.2 113.3,523.1 113.8,523.1 113.8,524.1 114.2,524.1 114.2,525.1 114.7,525.1 114.7,526.0 115.2,526.0 115.2,527.0 115.7,527.0 115.7,528.0 116.2,528.0 116.2,528.9 116.7,528.9 116.7,529.9 117.1,529.9 117.1,530.9 117.6,530.9 117.6,531.8 118.1,531.8 118.1,532.8 118.3,532.8 118.3,533.7 118.6,533.7 118.6,534.6 118.8,534.6 118.8,535.5 119.1,535.5 119.1,536.3 119.3,536.3 119.3,537.2 119.6,537.2 119.6,538.1 120.0,538.1 120.0,539.0 120.4,539.0 120.4,539.9 120.8,539.9 120.8,540.8 121.2,540.8 121.2,541.7 121.5,541.7 121.5,542.6 121.9,542.6 121.9,543.5 122.3,543.5 122.3,544.4 122.7,544.4 122.7,545.3 123.1,545.3 123.1,546.2 123.6,546.2 123.6,547.1 124.1,547.1 124.1,548.0 124.6,548.0 124.6,548.9 125.1,548.9 125.1,549.8 125.7,549.8 125.7,550.6 126.2,550.6 126.2,551.5 126.7,551.5 126.7,552.4 127.2,552.4 127.2,553.3 127.7,553.3 127.7,554.2 128.3,554.2 128.3,555.1 129.0,555.1 129.0,556.0 129.6,556.0 129.6,556.9 130.3,556.9 130.3,557.8 130.9,557.8 130.9,558.7 131.6,558.7 131.6,559.6 132.2,559.6 132.2,560.5 132.9,560.5 132.9,561.4 133.5,561.4 133.5,562.3 134.0,562.3 134.0,563.2 134.5,563.2 134.5,564.1 135.0,564.1 135.0,565.0 135.5,565.0 135.5,565.9 136.1,565.9 136.1,566.8 136.6,566.8 136.6,567.7 137.1,567.7 137.1,568.6 137.6,568.6 137.6,569.5 138.1,569.5 138.1,570.4 139.0,570.4 139.0,571.3 139.9,571.3 139.9,572.2 140.9,572.2 140.9,573.2 141.8,573.2 141.8,574.1 142.7,574.1 142.7,575.0 143.8,575.0 143.8,575.9 145.0,575.9 145.0,576.8 146.2,576.8 146.2,577.6 147.3,577.6 147.3,578.5 148.7,578.5 148.7,579.5 150.0,579.5 150.0,580.5 150.9,580.5 150.9,581.4 151.8,581.4 151.8,582.2 152.8,582.2 152.8,583.1 153.7,583.1 153.7,583.9 154.6,583.9 154.6,584.8 155.3,584.8 155.3,585.7 156.0,585.7 156.0,586.6 156.7,586.6 156.7,587.6 157.4,587.6 157.4,588.5 158.1,588.5 158.1,589.4 158.9,589.4 158.9,590.3 159.6,590.3 159.6,591.1 160.4,591.1 160.4,592.0 161.2,592.0 161.2,592.9 161.9,592.9 161.9,593.7 162.7,593.7 162.7,594.6 163.7,594.6 163.7,595.6 164.6,595.6 164.6,596.5 165.6,596.5 165.6,597.5 166.6,597.5 166.6,598.5 167.5,598.5 167.5,599.4 168.5,599.4 168.5,600.4 169.0,600.4 169.0,601.2 169.5,601.2 169.5,601.9 170.0,601.9 170.0,602.7 170.9,602.7 170.9,603.6 171.8,603.6 171.8,604.5 172.8,604.5 172.8,605.5 173.7,605.5 173.7,606.4 174.6,606.4 174.6,607.3 175.4,607.3 175.4,608.3 176.1,608.3 176.1,609.2 176.9,609.2 176.9,610.2 177.7,610.2 177.7,611.2 178.4,611.2 178.4,612.1 179.2,612.1 179.2,613.1 180.6,613.1 180.6,614.1 182.1,614.1 182.1,615.1 183.6,615.1 183.6,616.1 185.0,616.1 185.0,617.1 185.8,617.1 185.8,618.0 186.7,618.0 186.7,618.9 187.5,618.9 187.5,619.8 188.3,619.8 188.3,620.8 189.1,620.8 189.1,621.7 190.0,621.7 190.0,622.6 190.8,622.6 190.8,623.5 191.9,623.5 191.9,624.4 193.1,624.4 193.1,625.3 194.2,625.3 194.2,626.3 195.4,626.3 195.4,627.2 196.5,627.2 196.5,628.1 197.7,628.1 197.7,629.0 198.8,629.0 198.8,629.9 200.0,629.9 200.0,630.9 201.1,630.9 201.1,631.8 202.3,631.8 202.3,632.7 203.5,632.7 203.5,633.6 204.6,633.6 204.6,634.5 205.8,634.5 205.8,635.5 206.9,635.5 206.9,636.4 208.1,636.4 208.1,637.3 209.5,637.3 209.5,638.2 210.9,638.2 210.9,639.0 212.4,639.0 212.4,639.9 213.8,639.9 213.8,640.8 214.7,640.8 214.7,641.6 215.6,641.6 215.6,642.5 216.4,642.5 216.4,643.4 217.3,643.4 217.3,644.2 218.1,644.2 218.1,645.2 218.8,645.2 218.8,646.1 219.6,646.1 219.6,647.1 221.1,647.1 221.1,647.7 222.5,647.7 222.5,648.2 223.9,648.2 223.9,648.8 225.4,648.8 225.4,649.4 226.6,649.4 226.6,650.3 227.7,650.3 227.7,651.1 228.8,651.1 228.8,652.0 230.0,652.0 230.0,652.9 231.4,652.9 231.4,653.3 232.9,653.3 232.9,653.8 234.4,653.8 234.4,654.2 235.8,654.2 235.8,654.6 237.2,654.6 237.2,655.2 238.7,655.2 238.7,655.8 240.1,655.8 240.1,656.3 241.5,656.3 241.5,656.9 243.1,656.9 243.1,657.5 244.6,657.5 244.6,658.1 246.2,658.1 246.2,658.7 247.9,658.7 247.9,659.0 249.6,659.0 249.6,659.2 251.4,659.2 251.4,659.5 253.1,659.5 253.1,659.8 254.5,659.8 254.5,660.2 255.9,660.2 255.9,660.6 257.4,660.6 257.4,661.1 258.8,661.1 258.8,661.5 260.2,661.5 260.2,662.1 261.7,662.1 261.7,662.6 263.2,662.6 263.2,663.2 264.6,663.2 264.6,663.8 266.5,663.8 266.5,664.3 268.3,664.3 268.3,664.8 270.2,664.8 270.2,665.3 271.7,665.3 271.7,666.0 273.1,666.0 273.1,666.6 274.6,666.6 274.6,667.3 275.8,667.3 275.8,668.1 276.9,668.1 276.9,668.8 278.1,668.8 278.1,669.6 279.6,669.6 279.6,670.0 281.2,670.0 281.2,670.4 282.7,670.4 282.7,670.8 284.2,670.8 284.2,671.0 285.8,671.0 285.8,671.1 287.3,671.1 287.3,671.3 289.1,671.3 289.1,672.2 290.8,672.2 290.8,673.1 292.3,673.1 292.3,673.9 293.9,673.9 293.9,674.6 295.4,674.6 295.4,675.4 296.2,675.4 296.2,676.2 297.1,676.2 297.1,677.1 297.9,677.1 297.9,677.9 298.8,677.9 298.8,678.8 300.2,678.8 300.2,679.2 301.7,679.2 301.7,679.7 303.2,679.7 303.2,680.1 304.6,680.1 304.6,680.6 306.1,680.6 306.1,681.2 307.5,681.2 307.5,681.8 308.9,681.8 308.9,682.3 310.4,682.3 310.4,682.9 311.8,682.9 311.8,683.5 313.3,683.5 313.3,684.2 314.8,684.2 314.8,684.9 316.2,684.9 316.2,685.5 317.7,685.5 317.7,686.0 319.3,686.0 319.3,686.4 320.8,686.4 320.8,686.9 321.9,686.9 321.9,687.8 323.1,687.8 323.1,688.6 324.2,688.6 324.2,689.5 325.4,689.5 325.4,690.4 326.9,690.4 326.9,691.0 328.5,691.0 328.5,691.5 330.0,691.5 330.0,692.1 331.7,692.1 331.7,692.4 333.4,692.4 333.4,692.7 335.2,692.7 335.2,693.0 336.9,693.0 336.9,693.3 338.5,693.3 338.5,693.4 340.1,693.4 340.1,693.6 341.8,693.6 341.8,693.7 343.4,693.7 343.4,693.9 345.0,693.9 345.0,694.0 346.4,694.0 346.4,694.2 347.9,694.2 347.9,694.5 349.4,694.5 349.4,694.8 350.8,694.8 350.8,695.0 352.3,695.0 352.3,695.6 353.9,695.6 353.9,696.1 355.4,696.1 355.4,696.7 362.3,696.7 363.5,696.7 363.5,697.5 364.6,697.5 364.6,698.3 365.8,698.3 365.8,699.2 366.9,699.2 366.9,700.0 368.1,700.0 368.1,700.8 369.8,700.8 369.8,700.9 371.4,700.9 371.4,700.9 373.1,700.9 373.1,701.0 374.8,701.0 374.8,701.0 376.4,701.0 376.4,701.1 378.1,701.1 378.1,701.1 379.8,701.1 379.8,701.2 381.4,701.2 381.4,701.2 383.1,701.2 383.1,701.3 384.6,701.3 384.6,702.3 386.2,702.3 386.2,703.2 387.7,703.2 387.7,704.2 388.9,704.2 388.9,705.0 390.0,705.0 390.0,705.8 391.5,705.8 391.5,705.9 393.1,705.9 393.1,706.1 394.6,706.1 394.6,706.2 395.2,706.2 395.2,707.0 395.8,707.0 395.8,707.8 396.3,707.8 396.3,708.6 396.9,708.6 396.9,709.4 398.4,709.4 398.4,709.8 400.0,709.8 400.0,710.2 401.5,710.2 401.5,710.6 403.2,710.6 403.2,711.5 405.0,711.5 405.0,712.3 406.5,712.3 406.5,712.3 408.1,712.3 408.1,712.4 409.6,712.4 409.6,712.4 411.1,712.4 411.1,712.4 412.7,712.4 412.7,712.5 414.2,712.5 414.2,712.5 415.0,712.5 415.0,713.4 415.7,713.4 415.7,714.3 416.5,714.3 416.5,715.2 417.7,715.2 417.7,716.0 418.8,716.0 418.8,716.7 420.0,716.7 420.0,717.5 435.0,717.5 435.6,717.5 435.6,718.2 436.2,718.2 436.2,719.0 437.9,719.0 437.9,719.1 439.6,719.1 439.6,719.1 441.3,719.1 441.3,719.2 443.0,719.2 443.0,719.2 444.7,719.2 444.7,719.3 446.4,719.3 446.4,719.3 448.1,719.3 448.1,719.4 448.6,719.4 448.6,720.3 449.2,720.3 449.2,721.2 450.7,721.2 450.7,721.4 452.3,721.4 452.3,721.5 453.8,721.5 453.8,721.7 454.4,721.7 454.4,722.5 455.0,722.5 455.0,723.2 456.5,723.2 456.5,723.2 458.1,723.2 458.1,723.2 459.6,723.2 459.6,723.3 461.2,723.3 461.2,723.3 462.7,723.3 462.7,723.3 464.2,723.3 464.2,723.4 465.8,723.4 465.8,723.4 467.3,723.4 467.3,723.4 468.9,723.4 468.9,723.4 470.4,723.4 470.4,723.5 472.0,723.5 472.0,723.5 473.5,723.5 473.5,723.5 474.1,723.5 474.1,724.5 474.6,724.5 474.6,725.4 489.6,725.4" fill="none" stroke="#36a036" stroke-width="1.45" stroke-linejoin="round"/>
<line x1="97" y1="612.9" x2="254.4" y2="612.9" stroke="#222" stroke-width="1.3" stroke-dasharray="2.6,2"/>
<line x1="178.8" y1="612.9" x2="178.8" y2="736.1" stroke="#222" stroke-width="1.3" stroke-dasharray="2.6,2"/>
<line x1="216.0" y1="612.9" x2="216.0" y2="736.1" stroke="#222" stroke-width="1.3" stroke-dasharray="2.6,2"/>
<line x1="254.4" y1="612.9" x2="254.4" y2="736.1" stroke="#222" stroke-width="1.3" stroke-dasharray="2.6,2"/>
<path d="M77.3,477 V748.3 H509.8" fill="none" stroke="#000" stroke-width="1.4"/>
<line x1="73" y1="736.1" x2="77.3" y2="736.1" stroke="#222" stroke-width="1.2"/>
<text x="67.6" y="739.2" font-size="9.5" text-anchor="end" fill="#222">0.00</text>
<line x1="73" y1="674.5" x2="77.3" y2="674.5" stroke="#222" stroke-width="1.2"/>
<text x="67.6" y="677.6" font-size="9.5" text-anchor="end" fill="#222">0.25</text>
<line x1="73" y1="612.9" x2="77.3" y2="612.9" stroke="#222" stroke-width="1.2"/>
<text x="67.6" y="616.0" font-size="9.5" text-anchor="end" fill="#222">0.50</text>
<line x1="73" y1="551.2" x2="77.3" y2="551.2" stroke="#222" stroke-width="1.2"/>
<text x="67.6" y="554.3" font-size="9.5" text-anchor="end" fill="#222">0.75</text>
<line x1="73" y1="489.6" x2="77.3" y2="489.6" stroke="#222" stroke-width="1.2"/>
<text x="67.6" y="492.7" font-size="9.5" text-anchor="end" fill="#222">1.00</text>
<line x1="97.0" y1="748.3" x2="97.0" y2="752.6" stroke="#222" stroke-width="1.2"/>
<text x="97.0" y="765.6" font-size="9.5" text-anchor="middle" fill="#222">0</text>
<line x1="128.4" y1="748.3" x2="128.4" y2="752.6" stroke="#222" stroke-width="1.2"/>
<text x="128.4" y="765.6" font-size="9.5" text-anchor="middle" fill="#222">1</text>
<line x1="159.9" y1="748.3" x2="159.9" y2="752.6" stroke="#222" stroke-width="1.2"/>
<text x="159.9" y="765.6" font-size="9.5" text-anchor="middle" fill="#222">2</text>
<line x1="191.3" y1="748.3" x2="191.3" y2="752.6" stroke="#222" stroke-width="1.2"/>
<text x="191.3" y="765.6" font-size="9.5" text-anchor="middle" fill="#222">3</text>
<line x1="222.7" y1="748.3" x2="222.7" y2="752.6" stroke="#222" stroke-width="1.2"/>
<text x="222.7" y="765.6" font-size="9.5" text-anchor="middle" fill="#222">4</text>
<line x1="254.2" y1="748.3" x2="254.2" y2="752.6" stroke="#222" stroke-width="1.2"/>
<text x="254.2" y="765.6" font-size="9.5" text-anchor="middle" fill="#222">5</text>
<line x1="285.6" y1="748.3" x2="285.6" y2="752.6" stroke="#222" stroke-width="1.2"/>
<text x="285.6" y="765.6" font-size="9.5" text-anchor="middle" fill="#222">6</text>
<line x1="317.0" y1="748.3" x2="317.0" y2="752.6" stroke="#222" stroke-width="1.2"/>
<text x="317.0" y="765.6" font-size="9.5" text-anchor="middle" fill="#222">7</text>
<line x1="348.4" y1="748.3" x2="348.4" y2="752.6" stroke="#222" stroke-width="1.2"/>
<text x="348.4" y="765.6" font-size="9.5" text-anchor="middle" fill="#222">8</text>
<line x1="379.9" y1="748.3" x2="379.9" y2="752.6" stroke="#222" stroke-width="1.2"/>
<text x="379.9" y="765.6" font-size="9.5" text-anchor="middle" fill="#222">9</text>
<line x1="411.3" y1="748.3" x2="411.3" y2="752.6" stroke="#222" stroke-width="1.2"/>
<text x="411.3" y="765.6" font-size="9.5" text-anchor="middle" fill="#222">10</text>
<line x1="442.7" y1="748.3" x2="442.7" y2="752.6" stroke="#222" stroke-width="1.2"/>
<text x="442.7" y="765.6" font-size="9.5" text-anchor="middle" fill="#222">11</text>
<line x1="474.2" y1="748.3" x2="474.2" y2="752.6" stroke="#222" stroke-width="1.2"/>
<text x="474.2" y="765.6" font-size="9.5" text-anchor="middle" fill="#222">12</text>
<text transform="translate(293.8,783.5) scale(0.74,1)" font-size="11.4" text-anchor="middle" fill="#111" stroke="#111" stroke-width="0.25">Time</text>
<text transform="translate(41,612.7) rotate(-90) scale(0.765,1)" font-size="11.4" text-anchor="middle" fill="#111" stroke="#111" stroke-width="0.18">Survival probability</text>
<text x="97.9" y="736.9" font-size="9.2" fill="#222"><tspan font-style="italic">P</tspan> &lt; .001</text>
<rect x="241.7" y="477.9" width="176.5" height="71.9" fill="#fff" stroke="#222" stroke-width="1.2"/>
<line x1="311" y1="477.9" x2="311" y2="549.8" stroke="#222" stroke-width="1.2"/>
<line x1="241.7" y1="494.9" x2="418.2" y2="494.9" stroke="#222" stroke-width="1.2"/>
<line x1="241.7" y1="512.5" x2="418.2" y2="512.5" stroke="#222" stroke-width="1.2"/>
<line x1="241.7" y1="529.4" x2="418.2" y2="529.4" stroke="#222" stroke-width="1.2"/>
<text x="246.5" y="490.7" font-size="9.35" fill="#222">ALC Category</text>
<text x="315.5" y="490.7" font-size="9.35" fill="#222">Median Survival (Years)</text>
<text x="246.5" y="507.9" font-size="9.35" fill="#222">Normal</text>
<text x="315.5" y="507.9" font-size="9.35" fill="#222">5.0</text>
<text x="246.5" y="523.7" font-size="9.35" fill="#222">Low</text>
<text x="315.5" y="523.7" font-size="9.35" fill="#222">3.8</text>
<text x="246.5" y="542.8" font-size="9.35" fill="#222">Severely Low</text>
<text x="315.5" y="542.8" font-size="9.35" fill="#222">2.6</text>
<text x="78" y="799.9" font-size="9.1" fill="#222">Number at risk</text>
<path d="M77.3,807.5 V867 H509.5" fill="none" stroke="#000" stroke-width="1.4"/>
<line x1="72.8" y1="818.3" x2="77.3" y2="818.3" stroke="#222" stroke-width="1.2"/>
<text x="68" y="821.5" font-size="9.1" text-anchor="end" fill="#b52450">Normal</text>
<text x="97.0" y="821.9" font-size="9.9" text-anchor="middle" fill="#222">1520</text>
<text x="128.4" y="821.9" font-size="9.9" text-anchor="middle" fill="#222">1223</text>
<text x="159.9" y="821.9" font-size="9.9" text-anchor="middle" fill="#222">932</text>
<text x="191.3" y="821.9" font-size="9.9" text-anchor="middle" fill="#222">723</text>
<text x="222.7" y="821.9" font-size="9.9" text-anchor="middle" fill="#222">521</text>
<text x="254.2" y="821.9" font-size="9.9" text-anchor="middle" fill="#222">402</text>
<text x="285.6" y="821.9" font-size="9.9" text-anchor="middle" fill="#222">300</text>
<text x="317.0" y="821.9" font-size="9.9" text-anchor="middle" fill="#222">210</text>
<text x="348.4" y="821.9" font-size="9.9" text-anchor="middle" fill="#222">152</text>
<text x="379.9" y="821.9" font-size="9.9" text-anchor="middle" fill="#222">109</text>
<text x="411.3" y="821.9" font-size="9.9" text-anchor="middle" fill="#222">70</text>
<text x="442.7" y="821.9" font-size="9.9" text-anchor="middle" fill="#222">44</text>
<text x="474.2" y="821.9" font-size="9.9" text-anchor="middle" fill="#222">32</text>
<line x1="72.8" y1="837" x2="77.3" y2="837" stroke="#222" stroke-width="1.2"/>
<text x="68" y="840.2" font-size="9.1" text-anchor="end" fill="#e89a2e">Low</text>
<text x="97.0" y="840.6" font-size="9.9" text-anchor="middle" fill="#222">1251</text>
<text x="128.4" y="840.6" font-size="9.9" text-anchor="middle" fill="#222">973</text>
<text x="159.9" y="840.6" font-size="9.9" text-anchor="middle" fill="#222">682</text>
<text x="191.3" y="840.6" font-size="9.9" text-anchor="middle" fill="#222">505</text>
<text x="222.7" y="840.6" font-size="9.9" text-anchor="middle" fill="#222">339</text>
<text x="254.2" y="840.6" font-size="9.9" text-anchor="middle" fill="#222">247</text>
<text x="285.6" y="840.6" font-size="9.9" text-anchor="middle" fill="#222">178</text>
<text x="317.0" y="840.6" font-size="9.9" text-anchor="middle" fill="#222">123</text>
<text x="348.4" y="840.6" font-size="9.9" text-anchor="middle" fill="#222">86</text>
<text x="379.9" y="840.6" font-size="9.9" text-anchor="middle" fill="#222">63</text>
<text x="411.3" y="840.6" font-size="9.9" text-anchor="middle" fill="#222">41</text>
<text x="442.7" y="840.6" font-size="9.9" text-anchor="middle" fill="#222">28</text>
<text x="474.2" y="840.6" font-size="9.9" text-anchor="middle" fill="#222">22</text>
<line x1="72.8" y1="855.8" x2="77.3" y2="855.8" stroke="#222" stroke-width="1.2"/>
<text x="68" y="859.0" font-size="9.1" text-anchor="end" fill="#4ea84e">Severe_low</text>
<text x="97.0" y="859.4" font-size="9.9" text-anchor="middle" fill="#222">1141</text>
<text x="128.4" y="859.4" font-size="9.9" text-anchor="middle" fill="#222">700</text>
<text x="159.9" y="859.4" font-size="9.9" text-anchor="middle" fill="#222">482</text>
<text x="191.3" y="859.4" font-size="9.9" text-anchor="middle" fill="#222">318</text>
<text x="222.7" y="859.4" font-size="9.9" text-anchor="middle" fill="#222">206</text>
<text x="254.2" y="859.4" font-size="9.9" text-anchor="middle" fill="#222">146</text>
<text x="285.6" y="859.4" font-size="9.9" text-anchor="middle" fill="#222">107</text>
<text x="317.0" y="859.4" font-size="9.9" text-anchor="middle" fill="#222">71</text>
<text x="348.4" y="859.4" font-size="9.9" text-anchor="middle" fill="#222">43</text>
<text x="379.9" y="859.4" font-size="9.9" text-anchor="middle" fill="#222">29</text>
<text x="411.3" y="859.4" font-size="9.9" text-anchor="middle" fill="#222">16</text>
<text x="442.7" y="859.4" font-size="9.9" text-anchor="middle" fill="#222">10</text>
<text x="474.2" y="859.4" font-size="9.9" text-anchor="middle" fill="#222">5</text>
<line x1="97.0" y1="867" x2="97.0" y2="871.3" stroke="#222" stroke-width="1.2"/>
<text x="97.0" y="884.9" font-size="9.5" text-anchor="middle" fill="#222">0</text>
<line x1="128.4" y1="867" x2="128.4" y2="871.3" stroke="#222" stroke-width="1.2"/>
<text x="128.4" y="884.9" font-size="9.5" text-anchor="middle" fill="#222">1</text>
<line x1="159.9" y1="867" x2="159.9" y2="871.3" stroke="#222" stroke-width="1.2"/>
<text x="159.9" y="884.9" font-size="9.5" text-anchor="middle" fill="#222">2</text>
<line x1="191.3" y1="867" x2="191.3" y2="871.3" stroke="#222" stroke-width="1.2"/>
<text x="191.3" y="884.9" font-size="9.5" text-anchor="middle" fill="#222">3</text>
<line x1="222.7" y1="867" x2="222.7" y2="871.3" stroke="#222" stroke-width="1.2"/>
<text x="222.7" y="884.9" font-size="9.5" text-anchor="middle" fill="#222">4</text>
<line x1="254.2" y1="867" x2="254.2" y2="871.3" stroke="#222" stroke-width="1.2"/>
<text x="254.2" y="884.9" font-size="9.5" text-anchor="middle" fill="#222">5</text>
<line x1="285.6" y1="867" x2="285.6" y2="871.3" stroke="#222" stroke-width="1.2"/>
<text x="285.6" y="884.9" font-size="9.5" text-anchor="middle" fill="#222">6</text>
<line x1="317.0" y1="867" x2="317.0" y2="871.3" stroke="#222" stroke-width="1.2"/>
<text x="317.0" y="884.9" font-size="9.5" text-anchor="middle" fill="#222">7</text>
<line x1="348.4" y1="867" x2="348.4" y2="871.3" stroke="#222" stroke-width="1.2"/>
<text x="348.4" y="884.9" font-size="9.5" text-anchor="middle" fill="#222">8</text>
<line x1="379.9" y1="867" x2="379.9" y2="871.3" stroke="#222" stroke-width="1.2"/>
<text x="379.9" y="884.9" font-size="9.5" text-anchor="middle" fill="#222">9</text>
<line x1="411.3" y1="867" x2="411.3" y2="871.3" stroke="#222" stroke-width="1.2"/>
<text x="411.3" y="884.9" font-size="9.5" text-anchor="middle" fill="#222">10</text>
<line x1="442.7" y1="867" x2="442.7" y2="871.3" stroke="#222" stroke-width="1.2"/>
<text x="442.7" y="884.9" font-size="9.5" text-anchor="middle" fill="#222">11</text>
<line x1="474.2" y1="867" x2="474.2" y2="871.3" stroke="#222" stroke-width="1.2"/>
<text x="474.2" y="884.9" font-size="9.5" text-anchor="middle" fill="#222">12</text>
<text transform="translate(293.8,902.3) scale(0.74,1)" font-size="11.4" text-anchor="middle" fill="#111" stroke="#111" stroke-width="0.25">Time</text>
<text transform="translate(18.5,836.8) rotate(-90) scale(0.69,1)" font-size="12.6" text-anchor="middle" fill="#111" stroke="#111" stroke-width="0.45">ALC at year 2.5</text>
<text x="245.5" y="918.8" font-size="9.1" text-anchor="end" fill="#222">ALC at year 2.5</text>
<line x1="250.5" y1="915.8" x2="263.5" y2="915.8" stroke="#aa1030" stroke-width="2"/>
<text x="268.2" y="918.8" font-size="9.1" fill="#222">Normal</text>
<line x1="306.4" y1="915.8" x2="319.7" y2="915.8" stroke="#ea8c12" stroke-width="2"/>
<text x="324.2" y="918.8" font-size="9.1" fill="#222">Low</text>
<line x1="350.4" y1="915.8" x2="363.6" y2="915.8" stroke="#36a036" stroke-width="2"/>
<text x="368.6" y="918.8" font-size="9.1" fill="#222">Severe_low</text>
<rect x="0" y="0" width="520" height="1.1" fill="#111"/>
<rect x="0" y="0" width="1.1" height="931" fill="#111"/>
<rect x="518.8" y="0" width="1.2" height="931" fill="#111"/>
<rect x="0" y="929.5" width="520" height="1.5" fill="#111"/>
</svg>
</body></html>
